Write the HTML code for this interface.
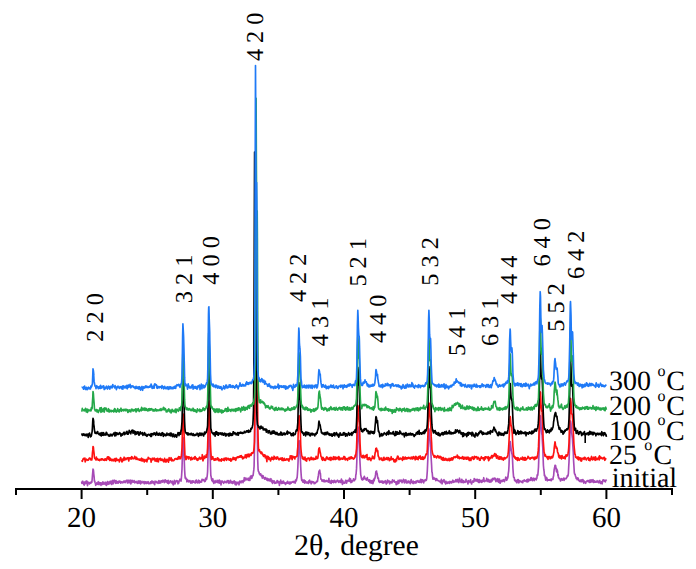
<!DOCTYPE html>
<html><head><meta charset="utf-8"><style>
html,body{margin:0;padding:0;background:#fff;}
svg{display:block;}
text{font-family:"Liberation Serif",serif;fill:#000;text-rendering:geometricPrecision;}
</style></head><body>
<svg width="696" height="569" viewBox="0 0 696 569">
<rect width="696" height="569" fill="#fff"/>
<polyline fill="none" stroke="#a64ab6" stroke-width="1.65" stroke-linejoin="round" points="81.6,481.5 81.9,483.3 82.3,481.4 82.6,483.0 82.9,481.4 83.2,483.1 83.6,484.2 83.9,482.8 84.2,485.1 84.6,482.0 84.9,482.5 85.2,482.1 85.5,482.7 85.9,483.6 86.2,481.1 86.5,481.0 86.8,481.0 87.2,481.6 87.5,485.6 87.8,483.6 88.2,482.4 88.5,482.4 88.8,482.4 89.1,482.7 89.5,483.9 89.8,482.9 90.1,482.9 90.5,482.9 90.8,483.2 91.1,481.9 91.4,482.2 91.8,482.4 92.1,480.0 92.4,476.4 92.8,471.7 93.0,469.1 93.4,469.9 93.7,472.8 93.7,473.3 94.1,476.6 94.4,481.1 94.7,481.0 95.0,482.5 95.4,483.3 95.7,485.3 96.0,483.5 96.4,483.1 96.7,482.9 97.0,484.2 97.3,483.6 97.7,482.8 98.0,484.3 98.3,481.7 98.7,483.3 99.0,484.6 99.3,483.4 99.6,482.6 100.0,483.9 100.3,484.0 100.6,482.8 101.0,485.4 101.3,483.8 101.6,483.6 101.9,482.8 102.3,484.3 102.6,484.4 102.9,481.9 103.2,482.6 103.6,483.7 103.9,484.1 104.2,483.1 104.6,483.8 104.9,482.9 105.2,482.2 105.5,484.7 105.9,483.0 106.2,483.4 106.5,485.4 106.9,482.4 107.2,484.1 107.5,481.5 107.8,481.7 108.2,484.3 108.5,483.0 108.8,482.7 109.2,483.0 109.5,481.9 109.8,483.9 110.1,481.3 110.5,483.0 110.8,481.7 111.1,481.0 111.4,483.3 111.8,484.4 112.1,482.3 112.4,481.8 112.8,480.4 113.1,483.3 113.4,483.7 113.7,481.8 114.1,481.7 114.4,480.2 114.7,481.7 115.1,481.7 115.4,482.4 115.7,483.3 116.0,480.6 116.4,481.6 116.7,482.9 117.0,483.1 117.4,483.0 117.7,481.6 118.0,483.0 118.3,483.1 118.7,481.3 119.0,481.6 119.3,481.1 119.6,482.2 120.0,481.2 120.3,481.4 120.6,483.2 121.0,482.6 121.3,482.5 121.6,481.8 121.9,481.7 122.3,482.8 122.6,482.2 122.9,482.6 123.3,482.5 123.6,481.5 123.9,481.0 124.2,482.3 124.6,481.4 124.9,481.0 125.2,482.6 125.6,481.6 125.9,481.6 126.2,481.2 126.5,480.2 126.9,480.2 127.2,481.8 127.5,483.0 127.8,482.7 128.2,480.2 128.5,480.6 128.8,482.6 129.2,482.7 129.5,481.2 129.8,480.8 130.1,480.0 130.5,481.7 130.8,484.0 131.0,481.9 131.5,480.7 131.8,482.0 131.8,482.7 132.1,480.3 132.4,481.3 132.8,481.8 133.1,481.8 133.4,481.1 133.8,482.2 134.1,480.5 134.4,482.4 134.7,482.9 135.1,482.3 135.4,482.3 135.7,481.9 136.0,481.3 136.4,482.5 136.7,481.9 137.0,482.9 137.4,482.8 137.7,483.4 138.0,481.7 138.3,480.9 138.7,481.7 139.0,483.1 139.3,481.0 139.7,481.0 140.0,481.8 140.3,481.1 140.6,483.9 141.0,482.4 141.3,483.1 141.6,482.9 142.0,481.4 142.3,482.6 142.6,482.7 142.9,482.3 143.3,482.6 143.6,481.9 143.9,481.5 144.2,483.6 144.6,483.7 144.9,482.9 145.2,481.8 145.6,482.0 145.9,482.1 146.2,483.3 146.5,482.1 146.9,483.3 147.2,483.0 147.5,482.2 147.9,482.8 148.2,481.7 148.5,483.6 148.8,483.5 149.2,483.4 149.5,483.3 149.8,483.6 150.2,483.2 150.5,481.9 150.8,483.5 151.1,481.9 151.5,483.0 151.8,481.1 152.1,481.0 152.4,482.6 152.8,482.9 153.1,481.6 153.4,481.9 153.8,482.8 154.1,483.8 154.4,482.8 154.7,484.6 155.1,481.2 155.4,481.9 155.7,481.4 156.1,482.2 156.4,481.6 156.7,482.7 157.0,482.2 157.4,482.5 157.7,482.2 158.0,483.4 158.4,481.5 158.7,481.0 159.0,480.6 159.3,483.1 159.7,482.1 160.0,481.7 160.3,481.9 160.6,483.0 161.0,480.8 161.3,481.1 161.6,480.9 162.0,480.6 162.3,482.1 162.6,480.4 162.9,481.7 163.3,481.0 163.6,480.6 163.9,480.3 164.3,482.6 164.6,480.8 164.9,481.3 165.2,479.9 165.6,481.0 165.9,481.9 166.2,481.2 166.6,481.7 166.9,480.7 167.2,482.7 167.5,483.2 167.9,482.0 168.2,480.3 168.5,483.6 168.8,482.7 169.2,482.7 169.5,481.8 169.8,482.8 170.2,480.8 170.5,481.3 170.8,481.0 171.1,481.7 171.5,482.0 171.8,482.1 172.1,483.3 172.5,481.2 172.8,482.3 173.1,484.7 173.4,484.8 173.8,482.0 174.1,483.2 174.4,480.4 174.8,481.7 175.1,483.8 175.4,482.0 175.7,481.2 176.1,481.9 176.4,481.4 176.7,480.6 177.0,481.0 177.4,480.8 177.7,481.6 178.0,483.8 178.4,481.5 178.7,483.0 179.0,481.6 179.3,480.7 179.7,480.2 180.0,479.2 180.3,479.9 180.7,480.2 181.0,481.1 181.3,478.9 181.6,475.5 182.0,468.9 182.3,458.2 182.6,447.2 182.9,438.5 183.3,437.9 183.6,444.1 183.8,448.3 183.9,451.9 184.3,461.6 184.6,469.8 184.9,474.6 185.2,478.2 185.6,477.2 185.9,478.8 186.2,479.4 186.6,479.1 186.9,481.8 187.2,481.2 187.5,479.7 187.9,480.2 188.2,480.7 188.5,481.4 188.9,482.0 189.2,480.9 189.5,481.0 189.8,480.5 190.2,481.1 190.5,481.0 190.8,483.1 191.2,482.3 191.5,481.5 191.8,481.0 192.1,483.0 192.5,481.7 192.8,481.0 193.1,480.8 193.4,482.2 193.8,482.1 194.1,482.2 194.4,482.6 194.8,482.4 195.1,483.0 195.4,480.7 195.7,482.9 196.1,481.9 196.4,480.0 196.7,481.7 197.1,481.1 197.4,482.5 197.7,482.8 198.0,481.3 198.4,482.1 198.7,480.2 199.0,480.9 199.4,483.0 199.7,480.8 200.0,481.1 200.3,482.2 200.7,481.9 201.0,482.1 201.3,481.8 201.6,482.0 202.0,479.3 202.3,480.5 202.6,479.9 203.0,479.6 203.3,479.5 203.6,480.3 203.9,479.9 204.3,481.1 204.6,481.7 204.9,480.6 205.3,481.2 205.6,478.2 205.9,479.8 206.2,479.6 206.6,479.3 206.9,477.5 207.2,476.1 207.6,471.7 207.9,460.7 208.2,446.6 208.5,432.3 208.7,427.9 208.9,424.3 209.2,428.7 209.5,438.4 209.7,441.1 209.8,444.5 210.2,457.1 210.5,467.2 210.8,475.3 211.2,477.0 211.5,478.9 211.8,480.4 212.1,480.4 212.5,481.5 212.8,478.8 213.1,480.6 213.5,482.3 213.8,483.4 214.1,482.6 214.4,482.4 214.8,481.5 215.1,480.5 215.4,482.7 215.8,482.2 216.1,481.8 216.4,481.8 216.7,481.7 217.1,480.3 217.4,482.5 217.7,481.7 218.0,482.6 218.4,480.6 218.7,481.1 219.0,482.9 219.4,480.1 219.7,482.5 220.0,483.2 220.3,482.1 220.7,481.1 221.0,484.9 221.3,482.6 221.7,481.4 222.0,481.1 222.3,481.8 222.6,481.2 223.0,482.2 223.3,482.2 223.6,483.3 224.0,482.1 224.3,482.2 224.6,482.3 224.9,481.2 225.3,482.3 225.6,482.5 225.9,482.5 226.2,482.3 226.6,481.7 226.9,482.7 227.2,480.6 227.6,481.6 227.9,481.1 228.2,481.5 228.5,480.7 228.9,483.3 229.2,481.2 229.5,482.5 229.9,481.3 230.2,482.6 230.5,480.4 230.8,482.1 231.2,483.0 231.5,483.0 231.8,481.6 232.2,483.1 232.5,483.5 232.8,481.7 233.1,483.0 233.5,481.8 233.8,482.8 234.1,480.9 234.4,481.2 234.8,481.6 235.1,484.5 235.4,484.6 235.8,482.0 236.1,482.0 236.4,484.8 236.7,483.1 237.1,483.8 237.4,482.4 237.7,482.9 238.1,483.0 238.4,482.3 238.7,483.1 239.0,484.8 239.4,482.2 239.7,481.2 240.0,481.0 240.4,481.9 240.7,482.4 241.0,482.8 241.3,481.6 241.7,481.2 242.0,480.9 242.3,481.4 242.6,481.3 243.0,482.6 243.3,480.6 243.6,480.0 244.0,480.7 244.3,477.7 244.6,480.9 244.9,479.7 245.3,478.2 245.6,478.7 245.9,478.1 246.3,479.8 246.6,479.4 246.9,479.3 247.2,479.2 247.6,478.8 247.9,479.9 248.2,478.2 248.6,480.3 248.9,478.4 249.2,478.5 249.5,478.8 249.9,480.5 250.2,477.3 250.5,476.3 250.8,478.0 251.2,475.7 251.5,478.5 251.8,478.2 252.2,476.8 252.5,476.2 252.8,475.3 253.1,475.5 253.5,472.2 253.8,469.9 254.1,466.3 254.5,446.7 254.8,403.5 255.1,324.5 255.5,257.5 255.8,272.5 256.1,310.1 256.4,322.1 256.6,332.1 256.8,343.8 257.1,393.3 257.4,437.2 257.7,459.7 258.1,469.7 258.4,471.3 258.7,471.5 259.0,472.6 259.4,473.9 259.7,474.0 260.0,474.8 260.4,473.7 260.7,473.7 261.0,475.6 261.3,475.3 261.7,476.4 262.0,475.6 262.3,478.2 262.7,475.5 263.0,476.0 263.1,475.8 263.3,476.8 263.6,477.9 264.0,477.5 264.3,477.7 264.6,479.2 265.0,479.1 265.3,477.5 265.6,477.6 265.9,478.8 266.3,478.3 266.6,479.0 266.9,480.1 267.2,478.3 267.6,479.3 267.9,480.6 268.2,480.3 268.6,479.6 268.9,478.8 269.2,480.3 269.5,480.5 269.9,481.0 270.2,480.6 270.5,479.4 270.9,478.7 271.2,480.7 271.5,481.9 271.8,480.2 272.2,481.1 272.5,483.4 272.8,480.7 273.2,481.4 273.5,482.0 273.8,482.5 274.1,480.8 274.5,481.5 274.8,483.4 275.1,482.6 275.4,483.2 275.8,483.0 276.1,483.1 276.4,481.9 276.8,482.4 277.1,480.6 277.4,482.5 277.7,480.8 278.1,482.8 278.4,482.7 278.7,481.8 279.1,481.9 279.4,485.5 279.7,482.7 280.0,482.5 280.4,481.6 280.7,480.1 281.0,481.5 281.4,483.5 281.7,483.5 282.0,482.3 282.3,481.7 282.7,483.1 283.0,483.1 283.3,481.1 283.6,481.2 284.0,482.7 284.3,483.3 284.6,483.3 285.0,483.4 285.3,482.9 285.6,484.5 285.9,483.6 286.3,482.8 286.6,482.4 286.9,482.7 287.3,483.1 287.6,481.4 287.9,482.4 288.2,482.4 288.6,483.5 288.9,482.7 289.2,482.5 289.6,482.1 289.9,484.2 290.2,482.3 290.5,482.3 290.9,482.1 291.2,483.1 291.5,482.4 291.8,482.2 292.2,482.0 292.5,482.0 292.8,481.7 293.2,482.4 293.5,481.9 293.8,481.4 294.1,482.3 294.5,481.8 294.8,481.9 295.1,483.1 295.5,480.0 295.8,481.7 296.1,479.6 296.4,480.5 296.8,478.1 297.1,478.0 297.4,474.4 297.8,468.0 298.1,460.9 298.4,449.7 298.8,441.5 299.1,440.6 299.4,445.3 299.7,448.7 300.0,452.4 300.0,454.0 300.4,459.4 300.7,466.7 301.0,472.2 301.4,477.7 301.7,480.3 302.0,479.4 302.3,480.3 302.7,481.8 303.0,482.2 303.3,481.6 303.7,482.2 304.0,479.9 304.3,480.8 304.6,483.1 305.0,480.9 305.3,480.9 305.6,481.7 306.0,482.7 306.3,482.3 306.6,483.0 306.9,482.1 307.3,482.8 307.6,482.8 307.9,482.1 308.2,483.4 308.6,482.0 308.9,480.9 309.2,480.8 309.6,480.2 309.9,482.6 310.2,481.3 310.5,481.8 310.9,481.7 311.2,483.9 311.5,483.4 311.9,481.3 312.2,481.8 312.5,482.1 312.8,482.3 313.2,482.1 313.5,481.8 313.8,482.5 314.2,483.6 314.5,483.5 314.8,482.5 315.1,483.5 315.5,482.7 315.8,482.5 316.1,482.5 316.4,481.8 316.8,481.4 317.1,480.8 317.4,481.6 317.8,478.8 318.1,477.0 318.4,475.4 318.7,473.1 319.0,471.1 319.4,471.3 319.7,470.1 320.1,473.1 320.3,473.2 320.4,473.2 320.7,477.9 321.0,479.2 321.4,479.3 321.7,479.8 322.0,481.1 322.4,480.9 322.7,480.0 323.0,480.5 323.3,481.4 323.7,481.1 324.0,479.8 324.3,481.8 324.6,480.6 325.0,481.0 325.3,481.2 325.6,481.7 326.0,480.7 326.3,481.0 326.6,480.6 326.9,480.4 327.3,481.3 327.6,480.9 327.9,481.7 328.3,482.0 328.6,482.1 328.9,478.4 329.2,481.9 329.6,480.9 329.9,481.9 330.2,482.9 330.6,481.0 330.9,481.5 331.2,483.5 331.5,480.3 331.9,481.3 332.2,482.1 332.5,482.0 332.8,480.9 333.2,481.5 333.5,482.6 333.8,482.3 334.2,480.3 334.5,481.9 334.8,480.5 335.1,482.2 335.5,482.1 335.8,482.6 336.1,481.4 336.5,481.6 336.8,480.8 337.1,480.7 337.4,480.2 337.8,480.4 338.1,480.9 338.4,482.1 338.8,482.4 339.1,481.6 339.4,481.2 339.7,480.9 340.1,481.6 340.4,480.9 340.7,482.5 341.0,481.0 341.4,479.1 341.7,482.0 342.0,481.4 342.4,484.4 342.7,480.6 343.0,482.5 343.3,482.3 343.7,482.4 344.0,483.3 344.3,483.1 344.7,483.2 345.0,481.9 345.3,481.8 345.6,480.4 346.0,482.4 346.3,480.6 346.6,483.1 347.0,481.5 347.3,481.0 347.6,481.0 347.9,480.4 348.3,481.0 348.6,480.5 348.9,479.9 349.2,481.4 349.6,478.2 349.9,480.5 350.2,480.1 350.6,479.0 350.9,482.7 351.2,480.5 351.5,481.3 351.9,482.2 352.2,480.8 352.5,480.6 352.9,480.9 353.2,480.2 353.5,478.9 353.8,480.0 354.2,479.6 354.5,480.7 354.8,479.6 355.2,479.2 355.5,479.2 355.8,475.0 356.1,474.0 356.5,468.9 356.8,461.6 357.1,450.3 357.4,437.6 357.8,428.9 358.1,427.1 358.4,435.5 358.8,438.6 359.1,443.0 359.2,444.5 359.4,448.3 359.7,456.3 360.1,464.1 360.4,469.5 360.7,474.8 361.1,476.4 361.4,478.1 361.7,479.4 362.0,478.3 362.4,480.0 362.7,478.6 363.0,478.3 363.4,479.5 363.7,477.4 364.0,477.7 364.3,476.3 364.7,477.6 365.0,478.9 365.3,478.8 365.7,478.5 366.0,478.8 366.3,480.2 366.6,479.3 367.0,479.1 367.1,478.9 367.3,477.5 367.6,479.5 367.9,479.9 368.3,480.1 368.6,481.2 368.9,480.2 369.3,481.5 369.6,479.9 369.9,482.7 370.2,482.3 370.6,480.7 370.9,481.0 371.2,483.1 371.6,483.0 371.9,480.8 372.2,480.6 372.5,480.5 372.9,483.6 373.2,482.4 373.5,481.6 373.8,479.2 374.2,480.6 374.5,478.2 374.8,478.8 375.2,476.8 375.5,474.9 375.8,472.3 376.0,471.6 376.5,471.0 376.8,473.0 377.1,473.4 377.4,475.4 377.5,476.7 377.8,478.1 378.1,478.7 378.4,478.0 378.8,481.4 379.1,480.9 379.4,482.4 379.8,482.2 380.1,481.1 380.4,481.8 380.7,481.6 381.1,482.2 381.4,481.0 381.7,482.0 382.0,482.2 382.4,483.0 382.7,481.0 383.0,483.1 383.4,481.7 383.7,482.9 384.0,481.6 384.3,482.5 384.7,482.4 385.0,481.6 385.3,480.7 385.7,482.8 386.0,482.8 386.3,484.0 386.6,482.2 387.0,481.0 387.3,483.0 387.6,480.1 388.0,481.2 388.3,481.8 388.6,481.4 388.9,481.1 389.3,481.0 389.6,483.8 389.9,483.6 390.2,481.5 390.6,482.2 390.9,481.8 391.2,481.6 391.6,482.0 391.9,483.0 392.2,482.3 392.5,479.8 392.9,480.8 393.2,481.4 393.5,480.8 393.9,481.5 394.2,480.4 394.5,482.2 394.8,482.2 395.2,482.3 395.5,482.5 395.8,481.8 396.2,484.6 396.5,482.9 396.8,481.8 397.1,482.4 397.5,483.8 397.8,483.8 398.1,480.3 398.4,481.7 398.8,483.3 399.1,482.0 399.4,481.7 399.8,480.1 400.1,481.4 400.4,481.3 400.7,481.0 401.1,480.1 401.4,481.6 401.7,481.1 402.1,482.7 402.4,480.8 402.7,481.5 403.0,480.8 403.4,479.4 403.7,481.6 404.0,479.8 404.4,482.9 404.7,481.7 405.0,481.0 405.3,480.4 405.7,479.9 406.0,480.2 406.3,482.9 406.6,482.8 407.0,482.6 407.3,482.8 407.6,481.3 408.0,481.2 408.3,482.4 408.6,481.1 408.9,482.6 409.3,481.7 409.6,481.9 409.9,481.3 410.3,483.6 410.6,481.4 410.9,481.0 411.2,479.5 411.6,482.5 411.9,481.3 412.2,481.8 412.6,481.5 412.9,483.5 413.2,481.1 413.5,481.7 413.9,483.4 414.2,482.2 414.5,481.9 414.8,482.3 415.2,481.5 415.5,481.6 415.8,483.1 416.2,481.1 416.5,482.5 416.8,481.1 417.1,481.1 417.5,481.2 417.8,480.5 418.1,481.0 418.5,482.1 418.8,481.5 419.1,481.5 419.4,482.0 419.8,482.5 420.1,480.4 420.4,480.6 420.8,479.3 421.1,480.3 421.4,482.6 421.7,479.9 422.1,480.8 422.4,479.9 422.7,481.7 423.0,480.0 423.4,481.1 423.7,482.9 424.0,481.0 424.4,481.1 424.7,480.1 425.0,481.0 425.3,480.3 425.7,479.5 426.0,480.5 426.3,480.3 426.7,478.7 427.0,475.3 427.3,471.1 427.6,464.3 428.0,455.0 428.3,443.7 428.6,433.3 428.9,428.7 429.3,430.9 429.6,435.2 429.9,438.1 430.3,443.9 430.5,446.7 430.6,447.1 430.9,453.4 431.2,458.7 431.6,465.4 431.9,471.9 432.2,472.6 432.6,476.9 432.9,479.2 433.2,478.6 433.5,479.1 433.9,477.5 434.2,478.4 434.5,479.1 434.9,479.3 435.2,479.2 435.5,478.5 435.8,480.6 436.2,479.6 436.5,478.7 436.8,478.9 437.2,480.0 437.5,480.4 437.8,480.4 438.1,480.5 438.5,480.7 438.8,480.8 439.1,481.2 439.4,481.7 439.8,481.3 440.1,481.1 440.4,481.4 440.8,482.7 441.1,481.7 441.4,479.3 441.7,480.8 442.1,483.8 442.4,481.5 442.7,481.7 443.1,480.7 443.4,481.0 443.7,480.1 444.0,479.6 444.4,482.4 444.7,481.5 445.0,482.0 445.4,482.5 445.7,484.0 446.0,481.2 446.3,483.1 446.7,482.9 447.0,483.4 447.3,483.4 447.6,483.2 448.0,481.9 448.3,482.1 448.6,482.9 449.0,482.3 449.3,482.3 449.6,483.4 449.9,481.4 450.3,482.1 450.6,482.4 450.9,482.2 451.3,481.7 451.6,483.0 451.9,482.7 452.2,481.3 452.6,482.0 452.9,480.2 453.2,481.6 453.6,482.3 453.9,481.6 454.2,481.1 454.5,481.5 454.9,481.9 455.2,481.1 455.5,481.5 455.8,479.7 456.2,480.2 456.5,481.6 456.8,481.7 457.0,480.1 457.2,479.4 457.5,480.3 457.8,481.6 458.1,480.0 458.5,480.0 458.7,481.4 458.8,482.6 459.1,481.5 459.5,478.2 459.8,480.5 460.1,480.8 460.4,480.5 460.8,481.7 461.1,482.5 461.4,481.0 461.8,479.3 462.1,480.3 462.4,482.5 462.7,481.9 463.1,481.0 463.4,482.7 463.7,480.7 464.0,482.4 464.4,481.6 464.7,481.9 465.0,482.3 465.4,481.9 465.7,480.9 466.0,479.4 466.3,480.3 466.7,481.4 467.0,481.0 467.3,482.2 467.7,482.7 468.0,484.0 468.3,481.1 468.6,480.7 469.0,481.2 469.3,481.3 469.6,481.5 470.0,482.5 470.3,480.9 470.6,479.7 470.9,482.3 471.3,482.8 471.6,484.0 471.9,482.5 472.2,482.5 472.6,481.6 472.9,480.9 473.2,481.1 473.6,482.1 473.9,481.3 474.2,478.6 474.5,479.4 474.9,479.7 475.2,481.0 475.5,480.8 475.9,479.4 476.2,479.6 476.5,480.0 476.8,481.1 477.2,479.4 477.5,479.5 477.8,481.1 478.2,481.9 478.5,482.3 478.8,480.6 479.1,479.6 479.5,482.5 479.8,480.0 480.1,480.5 480.4,481.3 480.6,481.3 480.8,481.4 481.1,480.6 481.4,482.4 481.8,480.6 482.1,481.5 482.4,481.9 482.4,480.3 482.7,481.2 483.1,479.6 483.4,481.3 483.7,477.7 484.1,479.7 484.4,480.7 484.7,481.7 485.0,481.1 485.4,481.0 485.7,481.0 486.0,480.4 486.4,480.3 486.7,478.4 487.0,480.7 487.3,481.5 487.7,480.5 488.0,481.5 488.3,479.4 488.6,479.6 489.0,479.9 489.3,482.1 489.6,481.2 490.0,480.6 490.3,481.6 490.6,480.4 490.9,482.2 491.3,479.4 491.6,479.4 491.9,480.9 492.3,480.9 492.6,479.3 492.9,478.3 493.2,479.6 493.6,479.1 493.9,478.6 494.2,478.3 494.4,478.3 494.6,478.6 494.9,478.2 495.2,480.0 495.5,478.6 495.9,481.6 496.2,479.7 496.2,480.2 496.5,479.9 496.8,479.5 497.2,479.2 497.5,481.1 497.8,478.5 498.2,480.2 498.5,482.3 498.8,481.6 499.1,480.8 499.5,479.1 499.8,482.3 500.1,483.2 500.5,482.6 500.8,480.9 501.1,480.9 501.4,481.0 501.8,481.3 502.1,480.1 502.4,481.5 502.8,481.2 503.1,480.2 503.4,480.4 503.7,479.5 504.1,481.2 504.4,481.7 504.7,480.5 505.0,480.1 505.4,479.5 505.7,477.2 506.0,477.3 506.4,478.6 506.7,480.3 507.0,478.8 507.3,479.0 507.7,478.0 508.0,476.5 508.3,473.4 508.7,470.8 509.0,465.6 509.3,456.6 509.6,448.9 510.1,441.8 510.3,441.6 510.6,444.1 511.0,448.2 511.3,450.8 511.6,451.5 511.9,454.0 511.9,452.9 512.3,455.6 512.6,460.9 512.9,468.0 513.2,472.4 513.6,477.1 513.9,477.4 514.2,477.3 514.6,480.4 514.9,480.5 515.2,479.9 515.5,481.4 515.9,480.6 516.2,480.9 516.5,482.2 516.9,482.9 517.2,480.1 517.5,481.1 517.8,479.8 518.2,479.5 518.5,481.5 518.8,482.9 519.2,482.1 519.5,480.6 519.8,480.9 520.1,481.3 520.5,481.1 520.8,481.8 521.1,481.9 521.4,481.6 521.8,482.0 522.1,482.5 522.4,481.1 522.8,482.7 523.1,480.6 523.4,480.7 523.7,480.4 524.1,480.1 524.4,479.9 524.7,481.1 525.1,481.0 525.4,480.8 525.7,481.0 526.0,480.7 526.4,481.7 526.7,479.9 527.0,480.0 527.4,479.3 527.7,481.9 528.0,481.6 528.3,480.7 528.7,481.1 529.0,479.2 529.3,480.3 529.6,480.1 530.0,479.9 530.3,480.4 530.6,479.5 531.0,477.5 531.3,477.9 531.6,478.2 531.9,480.0 532.3,480.7 532.6,480.0 532.9,478.8 533.3,478.1 533.6,479.8 533.9,478.9 534.2,480.6 534.6,478.5 534.9,478.8 535.2,478.5 535.6,479.2 535.9,478.5 536.2,479.9 536.5,478.7 536.9,478.3 537.2,474.9 537.5,475.8 537.8,475.0 538.2,471.0 538.5,467.0 538.8,458.2 539.2,448.3 539.5,435.1 539.8,420.6 540.2,415.6 540.5,416.8 540.8,421.5 541.1,427.0 541.5,431.4 541.8,434.2 542.1,434.8 542.1,435.1 542.4,441.6 542.8,447.9 543.1,457.2 543.4,465.2 543.8,469.7 544.1,471.3 544.4,475.6 544.7,475.0 545.1,476.4 545.4,478.4 545.7,480.2 546.0,479.6 546.4,477.3 546.7,477.6 547.0,478.7 547.4,480.8 547.7,479.9 548.0,479.7 548.3,480.1 548.7,479.8 549.0,480.1 549.3,479.7 549.7,480.1 550.0,479.9 550.3,480.3 550.6,480.3 551.0,479.0 551.3,480.6 551.6,479.1 552.0,479.4 552.3,479.0 552.6,479.1 552.9,479.4 553.3,476.7 553.6,476.0 553.9,472.3 554.2,469.4 554.6,467.8 555.0,465.3 555.2,465.4 555.6,465.5 555.9,468.0 556.2,469.6 556.5,471.6 556.9,469.7 557.0,469.2 557.2,472.5 557.5,470.7 557.9,475.8 558.2,474.5 558.5,477.6 558.8,477.7 559.2,478.6 559.5,478.3 559.8,478.6 560.2,479.8 560.5,481.0 560.8,479.7 561.1,479.2 561.5,479.7 561.8,478.6 562.1,479.3 562.4,480.2 562.8,479.5 563.1,479.5 563.4,479.4 563.8,478.1 564.1,480.4 564.4,478.7 564.7,478.5 565.1,478.8 565.4,478.5 565.7,478.7 566.1,478.7 566.4,478.3 566.7,477.5 567.0,477.2 567.4,475.5 567.7,476.2 568.0,475.9 568.4,473.3 568.7,467.0 569.0,462.0 569.3,453.6 569.7,443.0 570.0,432.2 570.3,423.4 570.5,422.0 570.6,421.0 571.0,423.7 571.3,430.6 571.6,432.7 572.0,434.8 572.3,437.4 572.5,438.9 572.6,441.7 572.9,446.4 573.3,452.4 573.6,461.0 573.9,465.5 574.3,472.5 574.6,474.0 574.9,474.0 575.2,475.1 575.6,476.4 575.9,477.0 576.2,478.5 576.6,478.4 576.9,478.5 577.2,479.7 577.5,477.9 577.9,478.4 578.2,478.2 578.5,479.6 578.8,480.6 579.2,480.4 579.5,481.1 579.8,481.5 580.2,480.7 580.5,480.1 580.8,481.0 581.1,481.7 581.5,481.0 581.8,479.9 582.1,481.6 582.5,480.7 582.8,479.6 583.1,480.0 583.4,481.3 583.8,483.2 584.1,482.7 584.4,481.0 584.8,482.5 585.1,482.5 585.4,482.4 585.7,483.3 586.1,481.8 586.4,481.4 586.7,481.2 587.0,480.9 587.4,480.6 587.7,480.6 588.0,481.6 588.4,481.6 588.7,480.5 589.0,480.6 589.3,482.2 589.7,482.4 590.0,480.2 590.3,480.9 590.7,482.3 591.0,479.8 591.3,480.0 591.6,480.0 592.0,480.5 592.3,481.8 592.6,479.9 593.0,479.7 593.3,480.8 593.6,482.5 593.9,482.0 594.3,480.9 594.6,482.1 594.9,481.7 595.2,481.6 595.6,482.2 595.9,481.4 596.2,482.2 596.6,481.5 596.9,481.9 597.2,480.7 597.5,481.4 597.9,482.1 598.2,482.0 598.5,482.7 598.9,481.0 599.2,482.4 599.5,480.5 599.8,480.6 600.2,482.5 600.5,483.4 600.8,483.4 601.2,482.7 601.5,481.8 601.8,483.3 602.1,483.9 602.5,482.0 602.8,480.0 603.1,481.0 603.4,480.4 603.8,479.8 604.1,480.5 604.4,481.2 604.8,481.4 605.1,481.6 605.4,481.8 605.7,480.2 606.1,480.1 606.4,480.9"/>
<polyline fill="none" stroke="#fe1212" stroke-width="1.65" stroke-linejoin="round" points="81.6,460.3 81.9,460.7 82.3,461.4 82.6,460.5 82.9,459.6 83.2,458.7 83.6,458.5 83.9,458.4 84.2,458.8 84.6,459.6 84.9,458.0 85.2,461.9 85.5,460.0 85.9,460.5 86.2,460.1 86.5,459.2 86.8,459.6 87.2,459.6 87.5,459.8 87.8,460.3 88.2,460.2 88.5,459.9 88.8,459.1 89.1,458.4 89.5,458.3 89.8,457.9 90.1,458.8 90.5,458.6 90.8,459.9 91.1,459.0 91.4,459.7 91.8,460.0 92.1,457.8 92.4,453.2 92.8,449.9 93.0,446.5 93.4,447.2 93.7,450.7 93.7,450.3 94.1,453.7 94.4,457.1 94.7,458.4 95.0,458.7 95.4,458.7 95.7,459.5 96.0,460.0 96.4,457.1 96.7,459.2 97.0,459.7 97.3,459.3 97.7,458.9 98.0,459.7 98.3,460.1 98.7,460.1 99.0,460.2 99.3,459.4 99.6,460.6 100.0,459.7 100.3,459.8 100.6,459.4 101.0,460.0 101.3,458.9 101.6,458.9 101.9,459.8 102.3,459.4 102.6,458.9 102.9,459.7 103.2,459.8 103.6,460.2 103.9,459.9 104.2,460.5 104.6,459.0 104.9,460.2 105.2,460.0 105.5,458.9 105.9,459.4 106.2,459.7 106.5,460.3 106.9,458.6 107.2,457.6 107.5,456.9 107.8,458.7 108.2,458.6 108.5,456.8 108.8,459.3 109.2,457.4 109.5,459.5 109.8,460.4 110.1,458.0 110.5,458.8 110.8,460.2 111.1,459.2 111.4,459.3 111.8,460.7 112.1,459.5 112.4,460.3 112.8,460.5 113.1,459.3 113.4,460.8 113.7,460.2 114.1,459.4 114.4,460.3 114.7,458.9 115.1,458.5 115.4,461.5 115.7,461.2 116.0,459.9 116.4,458.4 116.7,458.6 117.0,460.2 117.4,460.0 117.7,460.3 118.0,460.0 118.3,459.9 118.7,460.0 119.0,459.6 119.3,462.0 119.6,459.4 120.0,459.0 120.3,458.3 120.6,457.5 121.0,458.4 121.3,461.0 121.6,460.1 121.9,461.9 122.3,461.4 122.6,460.5 122.9,459.0 123.3,458.6 123.6,459.0 123.9,460.4 124.2,457.2 124.6,459.8 124.9,458.3 125.2,458.3 125.6,458.4 125.9,459.7 126.2,458.9 126.5,459.0 126.9,458.0 127.2,458.5 127.5,458.1 127.8,458.8 128.2,457.7 128.5,459.9 128.8,461.0 129.2,457.9 129.5,457.9 129.8,458.5 130.1,458.5 130.5,457.5 130.8,457.5 131.0,459.2 131.5,458.7 131.8,457.6 131.8,456.5 132.1,458.1 132.4,457.5 132.8,458.0 133.1,458.8 133.4,458.5 133.8,458.6 134.1,458.3 134.4,458.4 134.7,456.3 135.1,457.2 135.4,457.8 135.7,457.9 136.0,459.3 136.4,457.3 136.7,457.5 137.0,459.5 137.4,459.4 137.7,459.1 138.0,459.5 138.3,459.0 138.7,459.3 139.0,459.4 139.3,460.2 139.7,459.1 140.0,460.2 140.3,459.8 140.6,459.0 141.0,460.6 141.3,460.0 141.6,458.2 142.0,460.9 142.3,458.8 142.6,460.2 142.9,460.8 143.3,459.7 143.6,459.4 143.9,459.3 144.2,462.0 144.6,461.4 144.9,460.0 145.2,460.9 145.6,460.4 145.9,460.3 146.2,459.4 146.5,461.2 146.9,461.8 147.2,460.3 147.5,459.4 147.9,459.4 148.2,457.3 148.5,458.8 148.8,458.7 149.2,458.5 149.5,458.3 149.8,458.3 150.2,459.0 150.5,458.8 150.8,459.3 151.1,462.2 151.5,459.8 151.8,459.1 152.1,459.5 152.4,458.2 152.8,459.8 153.1,459.5 153.4,459.5 153.8,458.4 154.1,458.0 154.4,459.0 154.7,459.3 155.1,461.1 155.4,460.3 155.7,459.6 156.1,458.7 156.4,459.1 156.7,461.0 157.0,461.5 157.4,459.5 157.7,458.3 158.0,460.3 158.4,461.8 158.7,459.9 159.0,459.6 159.3,458.8 159.7,459.5 160.0,459.5 160.3,458.3 160.6,459.9 161.0,460.4 161.3,460.4 161.6,459.1 162.0,459.1 162.3,459.3 162.6,460.1 162.9,459.8 163.3,461.3 163.6,460.0 163.9,462.0 164.3,461.4 164.6,458.4 164.9,461.0 165.2,461.1 165.6,461.0 165.9,462.1 166.2,459.7 166.6,461.4 166.9,460.9 167.2,459.2 167.5,460.3 167.9,460.6 168.2,460.9 168.5,462.2 168.8,459.4 169.2,457.7 169.5,460.1 169.8,459.7 170.2,459.3 170.5,459.3 170.8,460.0 171.1,457.7 171.5,460.6 171.8,460.8 172.1,459.3 172.5,460.7 172.8,460.5 173.1,460.4 173.4,460.6 173.8,460.6 174.1,460.0 174.4,459.8 174.8,458.9 175.1,459.1 175.4,458.5 175.7,458.5 176.1,459.1 176.4,458.5 176.7,459.2 177.0,459.4 177.4,459.1 177.7,459.1 178.0,457.4 178.4,458.6 178.7,456.5 179.0,458.9 179.3,458.0 179.7,456.8 180.0,457.9 180.3,457.4 180.7,458.7 181.0,457.1 181.3,456.7 181.6,453.2 182.0,447.9 182.3,435.7 182.6,422.1 182.9,414.6 183.3,414.2 183.6,419.3 183.8,424.6 183.9,427.8 184.3,438.9 184.6,447.1 184.9,454.6 185.2,457.5 185.6,457.6 185.9,459.6 186.2,459.4 186.6,456.3 186.9,456.7 187.2,457.6 187.5,457.5 187.9,456.8 188.2,457.8 188.5,459.0 188.9,456.9 189.2,457.1 189.5,457.2 189.8,457.5 190.2,457.5 190.5,459.0 190.8,460.0 191.2,458.4 191.5,457.4 191.8,459.3 192.1,459.5 192.5,459.0 192.8,459.2 193.1,458.5 193.4,458.0 193.8,457.9 194.1,457.9 194.4,457.2 194.8,459.2 195.1,456.6 195.4,457.5 195.7,458.5 196.1,458.0 196.4,458.2 196.7,459.7 197.1,460.1 197.4,460.3 197.7,458.8 198.0,460.1 198.4,458.6 198.7,458.7 199.0,458.2 199.4,457.3 199.7,457.2 200.0,459.2 200.3,457.8 200.7,459.0 201.0,458.8 201.3,457.9 201.6,458.5 202.0,457.9 202.3,454.7 202.6,459.2 203.0,460.8 203.3,459.2 203.6,457.2 203.9,458.2 204.3,456.1 204.6,458.5 204.9,456.7 205.3,457.6 205.6,456.5 205.9,456.4 206.2,454.8 206.6,457.3 206.9,454.8 207.2,453.7 207.6,447.6 207.9,437.5 208.2,421.8 208.5,407.4 208.7,403.1 208.9,400.9 209.2,405.7 209.5,411.3 209.7,417.2 209.8,422.7 210.2,434.2 210.5,444.3 210.8,450.7 211.2,456.5 211.5,459.5 211.8,458.3 212.1,458.3 212.5,458.8 212.8,456.7 213.1,458.9 213.5,459.1 213.8,458.6 214.1,460.3 214.4,459.9 214.8,460.2 215.1,459.3 215.4,458.7 215.8,460.0 216.1,459.8 216.4,459.5 216.7,458.9 217.1,459.3 217.4,457.8 217.7,459.6 218.0,458.1 218.4,460.1 218.7,460.6 219.0,459.0 219.4,460.6 219.7,459.9 220.0,460.7 220.3,460.2 220.7,459.7 221.0,460.6 221.3,461.2 221.7,458.9 222.0,458.8 222.3,459.4 222.6,459.3 223.0,460.2 223.3,460.2 223.6,459.6 224.0,458.4 224.3,460.7 224.6,460.0 224.9,459.4 225.3,458.2 225.6,458.8 225.9,458.3 226.2,458.0 226.6,460.3 226.9,459.0 227.2,459.1 227.6,458.7 227.9,458.3 228.2,458.5 228.5,459.0 228.9,459.9 229.2,459.2 229.5,460.1 229.9,459.1 230.2,458.6 230.5,459.0 230.8,461.1 231.2,460.2 231.5,460.8 231.8,459.1 232.2,459.0 232.5,459.4 232.8,459.2 233.1,457.4 233.5,457.8 233.8,459.0 234.1,459.6 234.4,458.2 234.8,457.9 235.1,458.0 235.4,459.1 235.8,460.3 236.1,459.1 236.4,457.5 236.7,457.9 237.1,457.4 237.4,456.7 237.7,456.7 238.1,457.7 238.4,456.8 238.7,457.2 239.0,456.7 239.4,456.3 239.7,457.2 240.0,456.4 240.4,455.8 240.7,456.2 241.0,457.1 241.3,455.6 241.7,456.4 242.0,456.7 242.3,457.3 242.6,458.8 243.0,457.0 243.3,458.6 243.6,457.7 244.0,458.0 244.3,457.3 244.6,457.1 244.9,457.4 245.3,454.9 245.6,456.1 245.9,457.2 246.3,458.0 246.6,455.5 246.9,454.6 247.2,455.9 247.6,456.6 247.9,456.2 248.2,454.1 248.6,455.6 248.9,456.7 249.2,456.6 249.5,454.4 249.9,454.6 250.2,454.2 250.5,454.4 250.8,455.5 251.2,455.2 251.5,453.2 251.8,452.7 252.2,452.7 252.5,453.3 252.8,452.4 253.1,453.1 253.5,451.7 253.8,450.3 254.1,447.3 254.5,441.8 254.8,424.8 255.1,377.6 255.4,293.3 255.8,227.8 256.1,252.0 256.4,292.6 256.8,300.7 256.9,304.8 257.1,321.0 257.4,374.4 257.7,418.5 258.1,438.5 258.4,447.0 258.7,450.1 259.0,450.9 259.4,449.7 259.7,451.2 260.0,451.9 260.4,452.6 260.7,451.8 261.0,453.5 261.3,452.9 261.7,452.2 262.0,452.8 262.3,454.4 262.7,454.1 263.0,454.4 263.1,455.8 263.3,454.8 263.6,456.4 264.0,456.0 264.3,454.9 264.6,455.8 265.0,455.0 265.3,457.8 265.6,455.5 265.9,457.5 266.3,456.6 266.6,459.3 266.9,461.7 267.2,456.4 267.6,456.3 267.9,458.1 268.2,456.5 268.6,458.4 268.9,459.4 269.2,457.6 269.5,458.2 269.9,458.0 270.2,458.6 270.5,460.9 270.9,459.6 271.2,459.6 271.5,458.3 271.8,457.2 272.2,457.3 272.5,457.9 272.8,459.2 273.2,458.1 273.5,459.7 273.8,459.1 274.1,456.2 274.5,457.4 274.8,458.7 275.1,458.0 275.4,458.6 275.8,458.0 276.1,457.2 276.4,459.1 276.8,458.5 277.1,457.1 277.4,457.2 277.7,457.1 278.1,458.5 278.4,458.5 278.7,459.6 279.1,459.0 279.4,459.7 279.7,459.4 280.0,458.3 280.4,458.8 280.7,459.1 281.0,458.0 281.4,459.1 281.7,458.4 282.0,460.3 282.3,457.9 282.7,458.8 283.0,460.6 283.3,459.2 283.6,460.4 284.0,460.4 284.3,458.4 284.6,460.0 285.0,459.3 285.3,460.2 285.6,460.0 285.9,459.3 286.3,459.8 286.6,458.7 286.9,458.7 287.3,459.2 287.6,459.1 287.9,459.9 288.2,459.1 288.6,460.7 288.9,461.2 289.2,458.9 289.6,458.5 289.9,459.1 290.2,455.9 290.5,457.0 290.9,456.9 291.2,455.8 291.5,457.7 291.8,458.7 292.2,459.6 292.5,456.3 292.8,456.1 293.2,457.4 293.5,456.9 293.8,457.6 294.1,456.7 294.5,456.7 294.8,459.0 295.1,457.4 295.5,457.1 295.8,456.8 296.1,456.5 296.4,456.7 296.8,455.8 297.1,456.1 297.4,451.1 297.8,447.2 298.1,436.3 298.4,426.1 298.8,417.1 299.1,415.6 299.4,420.4 299.7,424.8 300.0,429.6 300.0,429.1 300.4,433.7 300.7,444.8 301.0,449.5 301.4,453.3 301.7,455.9 302.0,456.1 302.3,458.4 302.7,456.7 303.0,457.3 303.3,459.4 303.7,458.3 304.0,459.2 304.3,458.4 304.6,458.6 305.0,457.0 305.3,460.4 305.6,458.3 306.0,459.1 306.3,460.5 306.6,461.1 306.9,458.8 307.3,458.9 307.6,458.8 307.9,458.0 308.2,458.7 308.6,458.0 308.9,458.8 309.2,458.6 309.6,460.5 309.9,459.6 310.2,458.2 310.5,458.6 310.9,458.5 311.2,457.2 311.5,459.5 311.9,457.9 312.2,458.4 312.5,458.8 312.8,458.6 313.2,459.8 313.5,458.5 313.8,458.2 314.2,458.7 314.5,459.3 314.8,459.3 315.1,458.5 315.5,459.2 315.8,458.4 316.1,456.3 316.4,458.6 316.8,457.2 317.1,458.6 317.4,457.3 317.8,458.2 318.1,456.1 318.4,452.7 318.7,449.4 319.0,448.3 319.4,447.9 319.7,449.7 320.1,451.9 320.3,453.5 320.4,452.9 320.7,455.1 321.0,456.7 321.4,456.7 321.7,458.6 322.0,459.6 322.4,458.2 322.7,460.3 323.0,457.3 323.3,457.8 323.7,458.8 324.0,458.7 324.3,459.4 324.6,460.3 325.0,459.5 325.3,459.6 325.6,460.3 326.0,458.4 326.3,457.6 326.6,457.0 326.9,456.9 327.3,458.8 327.6,458.9 327.9,458.2 328.3,458.6 328.6,459.3 328.9,458.0 329.2,458.5 329.6,457.7 329.9,459.8 330.2,457.9 330.6,457.4 330.9,460.4 331.2,457.5 331.5,457.5 331.9,458.8 332.2,458.9 332.5,459.3 332.8,458.9 333.2,459.6 333.5,456.7 333.8,458.4 334.2,459.0 334.5,457.0 334.8,457.9 335.1,459.5 335.5,458.8 335.8,457.0 336.1,459.3 336.5,458.2 336.8,458.6 337.1,457.5 337.4,458.4 337.8,457.3 338.1,458.9 338.4,459.2 338.8,456.6 339.1,459.9 339.4,458.5 339.7,457.6 340.1,458.4 340.4,459.5 340.7,459.0 341.0,459.0 341.4,458.7 341.7,458.2 342.0,458.9 342.4,458.4 342.7,459.2 343.0,458.0 343.3,458.8 343.7,456.9 344.0,456.4 344.3,458.9 344.7,457.4 345.0,457.1 345.3,460.0 345.6,459.3 346.0,459.6 346.3,459.1 346.6,458.7 347.0,459.0 347.3,458.7 347.6,460.4 347.9,458.9 348.3,458.3 348.6,458.2 348.9,458.5 349.2,457.3 349.6,459.1 349.9,458.3 350.2,458.3 350.6,458.6 350.9,457.0 351.2,456.8 351.5,457.1 351.9,458.4 352.2,458.4 352.5,457.7 352.9,458.1 353.2,458.9 353.5,459.1 353.8,458.4 354.2,458.6 354.5,458.0 354.8,457.7 355.2,455.2 355.5,456.7 355.8,455.2 356.1,452.1 356.5,448.5 356.8,440.9 357.1,427.7 357.4,415.4 357.8,405.4 358.1,406.7 358.4,412.9 358.8,415.8 359.1,421.9 359.2,420.9 359.4,426.7 359.7,432.6 360.1,444.3 360.4,450.0 360.7,453.3 361.1,456.4 361.4,456.9 361.7,456.7 362.0,457.5 362.4,456.9 362.7,455.6 363.0,457.9 363.4,455.3 363.7,456.8 364.0,456.4 364.3,456.3 364.7,457.9 365.0,456.0 365.3,456.1 365.7,455.6 366.0,455.3 366.3,457.1 366.6,455.3 367.0,454.5 367.1,457.0 367.3,459.5 367.6,457.6 367.9,458.5 368.3,459.7 368.6,459.4 368.9,458.8 369.3,457.5 369.6,458.0 369.9,458.8 370.2,459.8 370.6,458.6 370.9,460.7 371.2,459.1 371.6,458.3 371.9,458.7 372.2,458.1 372.5,456.1 372.9,456.5 373.2,458.4 373.5,458.1 373.8,457.7 374.2,458.8 374.5,458.2 374.8,455.3 375.2,452.3 375.5,452.4 375.8,448.6 376.0,448.5 376.5,448.2 376.8,449.3 377.1,451.0 377.4,451.0 377.5,450.3 377.8,451.1 378.1,455.2 378.4,456.5 378.8,457.0 379.1,457.8 379.4,459.7 379.8,458.7 380.1,458.6 380.4,458.4 380.7,458.4 381.1,457.9 381.4,459.9 381.7,459.5 382.0,459.5 382.4,459.3 382.7,460.5 383.0,460.4 383.4,457.5 383.7,459.0 384.0,457.3 384.3,460.0 384.7,458.5 385.0,459.6 385.3,459.5 385.7,458.3 386.0,458.9 386.3,459.2 386.6,457.9 387.0,457.5 387.3,459.6 387.6,459.6 388.0,459.0 388.3,458.9 388.6,457.7 388.9,458.7 389.3,460.7 389.6,459.1 389.9,458.5 390.2,459.1 390.6,459.7 390.9,460.0 391.2,456.7 391.6,459.1 391.9,459.0 392.2,458.9 392.5,458.8 392.9,459.5 393.2,458.7 393.5,459.3 393.9,461.3 394.2,461.9 394.5,460.4 394.8,459.8 395.2,460.6 395.5,461.8 395.8,460.2 396.2,458.9 396.5,460.8 396.8,458.9 397.1,458.1 397.5,456.2 397.8,457.7 398.1,456.4 398.4,457.6 398.8,459.4 399.1,458.8 399.4,458.5 399.8,459.3 400.1,458.5 400.4,458.1 400.7,458.9 401.1,458.9 401.4,458.9 401.7,458.5 402.1,458.8 402.4,460.4 402.7,457.1 403.0,458.5 403.4,457.1 403.7,458.0 404.0,459.4 404.4,458.3 404.7,458.7 405.0,458.2 405.3,457.0 405.7,459.0 406.0,458.9 406.3,458.9 406.6,457.9 407.0,458.9 407.3,457.7 407.6,458.5 408.0,458.3 408.3,458.3 408.6,457.3 408.9,457.3 409.3,457.6 409.6,458.4 409.9,458.0 410.3,458.4 410.6,458.1 410.9,459.0 411.2,457.0 411.6,458.4 411.9,458.0 412.2,458.0 412.6,458.9 412.9,457.3 413.2,456.5 413.5,457.0 413.9,458.4 414.2,458.3 414.5,458.2 414.8,457.2 415.2,459.8 415.5,457.9 415.8,456.3 416.2,457.0 416.5,457.7 416.8,459.1 417.1,457.6 417.5,458.6 417.8,458.2 418.1,459.7 418.5,456.6 418.8,458.5 419.1,457.9 419.4,458.1 419.8,457.6 420.1,455.8 420.4,457.5 420.8,459.1 421.1,457.7 421.4,457.4 421.7,457.5 422.1,459.2 422.4,458.6 422.7,456.9 423.0,459.5 423.4,457.4 423.7,459.2 424.0,458.6 424.4,457.3 424.7,458.2 425.0,457.6 425.3,456.4 425.7,455.4 426.0,454.1 426.3,454.5 426.7,454.4 427.0,452.9 427.3,449.7 427.6,441.2 428.0,433.9 428.3,420.1 428.6,409.4 428.9,404.2 429.3,403.3 429.6,411.2 429.9,414.5 430.3,419.2 430.5,421.9 430.6,421.8 430.9,428.7 431.2,436.4 431.6,442.3 431.9,449.6 432.2,451.3 432.6,453.7 432.9,454.1 433.2,455.0 433.5,455.6 433.9,456.2 434.2,457.3 434.5,455.6 434.9,455.8 435.2,456.3 435.5,456.5 435.8,456.9 436.2,457.4 436.5,458.0 436.8,457.0 437.2,456.2 437.5,456.0 437.8,455.7 438.1,456.5 438.5,457.3 438.8,456.7 439.1,458.0 439.4,456.9 439.8,457.8 440.1,456.2 440.4,457.6 440.8,457.6 441.1,457.2 441.4,459.4 441.7,457.2 442.1,458.5 442.4,459.9 442.7,460.1 443.1,458.3 443.4,457.5 443.7,459.7 444.0,460.3 444.4,460.2 444.7,458.8 445.0,458.8 445.4,458.4 445.7,460.0 446.0,458.5 446.3,459.1 446.7,460.2 447.0,460.4 447.3,459.0 447.6,460.4 448.0,459.9 448.3,459.7 448.6,459.6 449.0,458.4 449.3,460.7 449.6,460.6 449.9,459.1 450.3,460.3 450.6,459.6 450.9,458.3 451.3,459.5 451.6,459.9 451.9,457.8 452.2,458.2 452.6,459.9 452.9,459.1 453.2,458.4 453.6,457.4 453.9,457.0 454.2,456.8 454.5,457.4 454.9,457.4 455.2,457.7 455.5,456.6 455.8,457.2 456.2,457.1 456.5,457.0 456.8,456.9 457.0,456.9 457.2,455.0 457.5,456.9 457.8,458.0 458.1,457.2 458.5,456.4 458.7,458.0 458.8,456.7 459.1,457.7 459.5,458.7 459.8,457.2 460.1,458.1 460.4,458.1 460.8,457.8 461.1,458.4 461.4,458.2 461.8,457.6 462.1,458.4 462.4,456.6 462.7,456.9 463.1,457.1 463.4,459.2 463.7,458.2 464.0,459.2 464.4,457.4 464.7,457.6 465.0,458.1 465.4,457.4 465.7,457.6 466.0,459.1 466.3,458.7 466.7,459.1 467.0,457.2 467.3,459.0 467.7,457.3 468.0,457.2 468.3,457.3 468.6,458.9 469.0,459.8 469.3,460.5 469.6,458.7 470.0,457.9 470.3,458.2 470.6,458.7 470.9,460.5 471.3,458.5 471.6,457.8 471.9,457.5 472.2,456.9 472.6,458.4 472.9,457.1 473.2,458.7 473.6,459.3 473.9,457.3 474.2,459.0 474.5,456.4 474.9,456.7 475.2,457.1 475.5,457.6 475.9,457.1 476.2,456.8 476.5,457.1 476.8,456.6 477.2,459.1 477.5,458.1 477.8,458.4 478.2,457.9 478.5,457.4 478.8,458.5 479.1,459.0 479.5,460.2 479.8,459.3 480.1,460.3 480.4,458.4 480.6,458.5 480.8,458.6 481.1,458.0 481.4,456.7 481.8,457.7 482.1,457.6 482.4,458.2 482.4,458.7 482.7,458.7 483.1,457.8 483.4,458.7 483.7,457.9 484.1,460.4 484.4,458.0 484.7,457.2 485.0,457.0 485.4,459.0 485.7,456.8 486.0,457.6 486.4,457.0 486.7,457.0 487.0,457.6 487.3,457.3 487.7,458.3 488.0,458.8 488.3,456.7 488.6,460.6 489.0,460.2 489.3,458.2 489.6,457.6 490.0,458.7 490.3,457.4 490.6,458.5 490.9,457.8 491.3,456.8 491.6,455.6 491.9,457.2 492.3,457.9 492.6,457.2 492.9,455.7 493.2,455.4 493.6,456.0 493.9,456.2 494.2,454.8 494.4,455.4 494.6,453.7 494.9,453.5 495.2,454.4 495.5,455.2 495.9,456.5 496.2,456.1 496.2,454.3 496.5,458.1 496.8,456.6 497.2,456.5 497.5,457.0 497.8,455.8 498.2,458.9 498.5,457.2 498.8,458.0 499.1,459.0 499.5,459.2 499.8,456.6 500.1,457.3 500.5,459.0 500.8,457.1 501.1,457.6 501.4,457.0 501.8,458.0 502.1,459.5 502.4,459.2 502.8,458.2 503.1,459.7 503.4,460.1 503.7,458.0 504.1,458.4 504.4,457.6 504.7,459.0 505.0,458.0 505.4,458.6 505.7,457.7 506.0,457.7 506.4,457.6 506.7,457.7 507.0,457.3 507.3,456.5 507.7,456.0 508.0,454.2 508.3,452.1 508.7,446.3 509.0,441.6 509.3,434.5 509.6,426.2 510.1,418.0 510.3,416.6 510.6,420.2 511.0,425.0 511.3,425.8 511.6,426.6 511.9,428.4 511.9,430.4 512.3,433.5 512.6,440.7 512.9,446.3 513.2,449.2 513.6,454.8 513.9,457.0 514.2,456.1 514.6,456.6 514.9,458.1 515.2,457.1 515.5,458.2 515.9,459.1 516.2,458.5 516.5,457.8 516.9,459.3 517.2,460.0 517.5,460.5 517.8,457.7 518.2,458.0 518.5,459.4 518.8,459.1 519.2,460.3 519.5,459.9 519.8,459.2 520.1,459.1 520.5,458.1 520.8,458.1 521.1,458.9 521.4,459.1 521.8,458.6 522.1,459.1 522.4,457.0 522.8,459.0 523.1,459.9 523.4,459.9 523.7,458.6 524.1,457.7 524.4,457.5 524.7,460.1 525.1,460.2 525.4,457.5 525.7,458.2 526.0,458.5 526.4,459.6 526.7,458.8 527.0,458.6 527.4,458.3 527.7,458.0 528.0,456.3 528.3,457.1 528.7,457.1 529.0,457.7 529.3,458.4 529.6,459.0 530.0,458.6 530.3,459.1 530.6,457.9 531.0,457.9 531.3,457.5 531.6,458.1 531.9,457.5 532.3,457.5 532.6,457.6 532.9,457.2 533.3,458.5 533.6,457.8 533.9,458.1 534.2,459.7 534.6,457.8 534.9,457.0 535.2,458.1 535.6,458.9 535.9,457.0 536.2,458.2 536.5,458.2 536.9,458.2 537.2,456.7 537.5,455.4 537.8,454.2 538.2,450.9 538.5,446.4 538.8,438.5 539.2,426.9 539.5,413.9 539.8,403.1 540.2,391.7 540.5,392.4 540.8,398.3 541.1,405.7 541.5,409.2 541.8,411.4 542.1,410.6 542.1,411.7 542.4,419.1 542.8,426.6 543.1,438.8 543.4,442.7 543.8,448.6 544.1,452.8 544.4,452.8 544.7,454.9 545.1,456.3 545.4,454.8 545.7,456.1 546.0,456.1 546.4,456.9 546.7,456.9 547.0,457.8 547.4,456.9 547.7,456.6 548.0,459.5 548.3,457.4 548.7,456.6 549.0,457.3 549.3,456.7 549.7,457.2 550.0,458.6 550.3,457.2 550.6,458.6 551.0,456.9 551.3,456.9 551.6,457.7 552.0,457.9 552.3,456.2 552.6,457.6 552.9,456.5 553.3,455.2 553.6,453.4 553.9,452.2 554.2,448.0 554.6,444.8 555.0,441.9 555.2,442.5 555.6,446.0 555.9,446.2 556.2,448.3 556.5,447.1 556.9,448.1 557.0,448.4 557.2,448.8 557.5,451.7 557.9,452.9 558.2,453.1 558.5,455.2 558.8,457.0 559.2,455.4 559.5,457.9 559.8,457.1 560.2,457.8 560.5,456.3 560.8,455.9 561.1,458.5 561.5,458.9 561.8,457.9 562.1,455.6 562.4,457.3 562.8,456.9 563.1,457.2 563.4,458.2 563.8,458.1 564.1,457.1 564.4,457.4 564.7,456.6 565.1,458.9 565.4,457.3 565.7,456.0 566.1,454.8 566.4,455.2 566.7,456.3 567.0,455.7 567.4,455.6 567.7,455.0 568.0,453.5 568.4,451.1 568.7,447.9 569.0,442.9 569.3,431.9 569.7,421.9 570.0,409.5 570.3,398.5 570.5,398.4 570.6,399.1 571.0,402.4 571.3,409.5 571.6,414.0 572.0,413.8 572.3,415.0 572.5,417.9 572.6,419.2 572.9,422.8 573.3,431.4 573.6,437.1 573.9,443.8 574.3,448.2 574.6,451.2 574.9,454.3 575.2,454.3 575.6,457.1 575.9,457.5 576.2,457.0 576.6,457.3 576.9,458.1 577.2,457.6 577.5,458.8 577.9,456.8 578.2,458.4 578.5,459.8 578.8,457.3 579.2,458.5 579.5,458.8 579.8,457.8 580.2,458.4 580.5,460.6 580.8,458.1 581.1,460.9 581.5,461.1 581.8,460.2 582.1,458.3 582.5,458.5 582.8,458.7 583.1,458.8 583.4,458.0 583.8,459.3 584.1,459.4 584.4,457.3 584.8,457.9 585.1,457.5 585.4,458.3 585.7,458.8 586.1,459.6 586.4,459.9 586.7,458.7 587.0,458.7 587.4,458.0 587.7,458.4 588.0,458.4 588.4,457.6 588.7,460.1 589.0,459.6 589.3,458.5 589.7,459.6 590.0,460.7 590.3,458.8 590.7,459.7 591.0,458.4 591.3,457.2 591.6,456.4 592.0,459.2 592.3,457.8 592.6,459.9 593.0,458.1 593.3,458.2 593.6,457.9 593.9,457.1 594.3,459.5 594.6,457.9 594.9,458.4 595.2,460.3 595.6,456.9 595.9,458.0 596.2,458.5 596.6,458.8 596.9,459.8 597.2,458.5 597.5,459.2 597.9,458.3 598.2,457.8 598.5,459.0 598.9,456.8 599.2,459.9 599.5,455.8 599.8,456.8 600.2,458.0 600.5,458.3 600.8,457.0 601.2,458.0 601.5,457.6 601.8,458.5 602.1,458.5 602.5,458.8 602.8,458.1 603.1,458.7 603.4,457.7 603.8,458.7 604.1,457.4 604.4,457.4 604.8,460.3 605.1,459.9 605.4,459.1 605.7,458.6 606.1,459.0 606.4,459.0"/>
<polyline fill="none" stroke="#000000" stroke-width="1.65" stroke-linejoin="round" points="81.6,433.4 81.9,434.1 82.3,435.3 82.6,435.1 82.9,435.3 83.2,434.3 83.6,434.1 83.9,433.8 84.2,434.8 84.6,435.5 84.9,435.4 85.2,434.5 85.5,434.9 85.9,434.3 86.2,435.9 86.5,434.2 86.8,435.0 87.2,434.9 87.5,434.2 87.8,435.4 88.2,437.4 88.5,434.8 88.8,433.9 89.1,433.8 89.5,433.0 89.8,434.8 90.1,435.9 90.5,436.8 90.8,435.9 91.1,436.3 91.4,435.7 91.8,433.3 92.1,431.8 92.4,428.1 92.8,420.4 93.0,418.3 93.4,419.6 93.7,421.6 93.7,423.9 94.1,426.3 94.4,429.6 94.7,431.6 95.0,433.1 95.4,432.2 95.7,432.5 96.0,433.5 96.4,433.2 96.7,433.5 97.0,433.0 97.3,431.8 97.7,431.6 98.0,432.8 98.3,433.8 98.7,433.5 99.0,434.5 99.3,433.4 99.6,433.9 100.0,435.1 100.3,434.4 100.6,433.0 101.0,435.2 101.3,436.0 101.6,433.2 101.9,432.5 102.3,433.2 102.6,435.1 102.9,433.5 103.2,433.3 103.6,432.6 103.9,435.3 104.2,433.9 104.6,434.7 104.9,434.3 105.2,434.1 105.5,434.8 105.9,435.1 106.2,432.3 106.5,432.3 106.9,433.3 107.2,434.4 107.5,434.3 107.8,434.7 108.2,434.6 108.5,435.9 108.8,435.5 109.2,436.0 109.5,435.4 109.8,436.2 110.1,434.3 110.5,435.5 110.8,435.5 111.1,434.2 111.4,435.0 111.8,435.0 112.1,436.0 112.4,434.9 112.8,434.8 113.1,433.9 113.4,433.9 113.7,433.0 114.1,433.8 114.4,434.7 114.7,435.9 115.1,432.3 115.4,433.2 115.7,435.7 116.0,434.4 116.4,432.8 116.7,434.7 117.0,433.6 117.4,433.2 117.7,433.7 118.0,434.2 118.3,434.3 118.7,434.5 119.0,433.9 119.3,433.0 119.6,432.5 120.0,433.2 120.3,433.8 120.6,434.0 121.0,436.1 121.3,434.3 121.6,434.8 121.9,433.9 122.3,434.9 122.6,435.1 122.9,434.0 123.3,433.5 123.6,432.5 123.9,433.6 124.2,432.2 124.6,434.6 124.9,433.3 125.2,434.1 125.6,433.4 125.9,433.1 126.2,432.0 126.5,432.7 126.9,431.4 127.2,434.1 127.5,432.1 127.8,432.6 128.2,434.1 128.5,432.3 128.8,433.1 129.2,430.4 129.5,430.9 129.8,432.0 130.1,431.4 130.5,432.5 130.8,433.8 131.0,432.1 131.5,432.1 131.8,430.4 131.8,431.3 132.1,431.1 132.4,431.5 132.8,430.1 133.1,433.3 133.4,432.3 133.8,431.2 134.1,430.8 134.4,431.3 134.7,432.3 135.1,434.6 135.4,433.0 135.7,431.6 136.0,432.8 136.4,432.7 136.7,434.2 137.0,432.3 137.4,432.2 137.7,431.8 138.0,433.4 138.3,432.0 138.7,434.0 139.0,435.2 139.3,434.9 139.7,434.3 140.0,433.1 140.3,431.8 140.6,432.5 141.0,432.9 141.3,433.7 141.6,433.0 142.0,434.0 142.3,433.5 142.6,432.6 142.9,435.4 143.3,434.8 143.6,434.2 143.9,433.9 144.2,434.4 144.6,432.6 144.9,434.7 145.2,435.3 145.6,435.2 145.9,434.1 146.2,435.5 146.5,435.5 146.9,436.3 147.2,436.1 147.5,435.2 147.9,434.5 148.2,434.5 148.5,434.4 148.8,435.0 149.2,434.5 149.5,435.3 149.8,434.6 150.2,434.8 150.5,435.5 150.8,436.4 151.1,433.6 151.5,436.4 151.8,434.8 152.1,434.8 152.4,433.7 152.8,433.6 153.1,433.5 153.4,434.7 153.8,434.5 154.1,432.8 154.4,434.1 154.7,433.1 155.1,433.9 155.4,433.6 155.7,435.3 156.1,434.4 156.4,432.6 156.7,432.1 157.0,433.6 157.4,433.8 157.7,435.0 158.0,434.7 158.4,435.1 158.7,433.7 159.0,433.4 159.3,433.5 159.7,433.2 160.0,435.1 160.3,435.3 160.6,434.1 161.0,435.1 161.3,435.4 161.6,433.9 162.0,432.8 162.3,434.3 162.6,432.7 162.9,433.2 163.3,436.4 163.6,434.4 163.9,433.9 164.3,434.1 164.6,434.7 164.9,435.5 165.2,434.5 165.6,434.7 165.9,435.8 166.2,434.5 166.6,433.8 166.9,433.1 167.2,435.1 167.5,434.5 167.9,434.6 168.2,434.4 168.5,433.9 168.8,434.3 169.2,435.5 169.5,433.9 169.8,434.7 170.2,433.0 170.5,433.5 170.8,435.9 171.1,433.0 171.5,434.8 171.8,433.9 172.1,434.3 172.5,436.6 172.8,434.8 173.1,434.2 173.4,434.3 173.8,434.1 174.1,436.5 174.4,436.9 174.8,435.6 175.1,436.1 175.4,436.1 175.7,434.7 176.1,435.6 176.4,437.2 176.7,437.2 177.0,435.6 177.4,434.5 177.7,433.9 178.0,432.7 178.4,434.5 178.7,432.7 179.0,435.6 179.3,434.1 179.7,432.6 180.0,434.1 180.3,434.1 180.7,434.1 181.0,430.1 181.3,430.9 181.6,426.5 182.0,421.7 182.3,410.0 182.6,388.9 182.9,378.6 183.3,380.4 183.6,387.8 183.8,395.1 183.9,397.4 184.3,410.6 184.6,421.4 184.9,427.7 185.2,431.1 185.6,432.6 185.9,432.5 186.2,433.2 186.6,433.7 186.9,432.9 187.2,434.1 187.5,434.8 187.9,432.9 188.2,434.3 188.5,434.8 188.9,433.6 189.2,434.1 189.5,434.5 189.8,434.2 190.2,434.9 190.5,433.5 190.8,433.5 191.2,434.5 191.5,433.3 191.8,434.9 192.1,434.1 192.5,434.7 192.8,435.4 193.1,435.5 193.4,433.7 193.8,435.4 194.1,435.1 194.4,434.8 194.8,435.6 195.1,434.9 195.4,434.6 195.7,434.3 196.1,435.1 196.4,434.7 196.7,434.7 197.1,433.2 197.4,434.0 197.7,434.7 198.0,433.6 198.4,436.4 198.7,435.6 199.0,434.6 199.4,435.2 199.7,433.1 200.0,433.3 200.3,434.8 200.7,433.4 201.0,435.5 201.3,434.6 201.6,433.8 202.0,433.1 202.3,434.7 202.6,433.9 203.0,434.8 203.3,434.1 203.6,436.0 203.9,434.5 204.3,432.8 204.6,432.1 204.9,434.1 205.3,433.6 205.6,433.0 205.9,432.2 206.2,432.5 206.6,431.0 206.9,430.1 207.2,428.8 207.6,425.5 207.9,413.5 208.2,392.7 208.5,370.0 208.7,364.7 208.9,365.0 209.2,372.2 209.5,381.7 209.7,384.8 209.8,390.7 210.2,405.6 210.5,418.3 210.8,428.2 211.2,430.1 211.5,431.0 211.8,432.2 212.1,433.0 212.5,433.1 212.8,432.8 213.1,433.6 213.5,434.6 213.8,433.9 214.1,432.9 214.4,434.0 214.8,433.6 215.1,436.2 215.4,433.1 215.8,431.9 216.1,431.8 216.4,434.3 216.7,431.7 217.1,433.0 217.4,432.7 217.7,434.9 218.0,434.0 218.4,435.2 218.7,432.8 219.0,433.6 219.4,433.8 219.7,433.9 220.0,433.2 220.3,432.9 220.7,433.9 221.0,434.3 221.3,433.6 221.7,434.6 222.0,432.8 222.3,434.0 222.6,434.7 223.0,433.6 223.3,435.2 223.6,434.1 224.0,434.8 224.3,433.3 224.6,433.2 224.9,434.2 225.3,434.5 225.6,436.0 225.9,433.6 226.2,435.1 226.6,435.7 226.9,434.4 227.2,434.6 227.6,434.7 227.9,434.5 228.2,433.5 228.5,434.5 228.9,436.1 229.2,434.4 229.5,434.1 229.9,433.0 230.2,435.4 230.5,433.6 230.8,434.0 231.2,434.3 231.5,435.3 231.8,433.8 232.2,435.3 232.5,434.7 232.8,434.9 233.1,431.8 233.5,431.9 233.8,432.9 234.1,432.6 234.4,433.6 234.8,433.9 235.1,432.7 235.4,433.4 235.8,433.4 236.1,434.8 236.4,434.0 236.7,433.5 237.1,433.9 237.4,435.0 237.7,432.6 238.1,433.5 238.4,435.1 238.7,433.7 239.0,432.6 239.4,432.5 239.7,433.2 240.0,433.2 240.4,432.7 240.7,432.1 241.0,433.2 241.3,432.5 241.7,433.1 242.0,433.3 242.3,432.5 242.6,433.5 243.0,433.0 243.3,433.1 243.6,433.0 244.0,432.5 244.3,431.4 244.6,432.1 244.9,432.6 245.3,432.7 245.6,432.1 245.9,432.3 246.3,431.1 246.6,430.8 246.9,430.9 247.2,431.6 247.6,431.1 247.9,431.6 248.2,432.3 248.6,430.2 248.9,432.2 249.2,431.8 249.5,431.0 249.9,431.1 250.2,431.6 250.5,431.3 250.8,428.7 251.2,428.1 251.5,429.1 251.8,428.2 252.2,427.6 252.5,425.8 252.8,424.7 253.1,420.2 253.5,410.2 253.8,376.5 254.1,286.5 254.6,152.1 254.8,171.4 255.1,246.1 255.4,258.3 255.7,252.5 255.8,254.5 256.1,321.2 256.4,385.8 256.8,412.9 257.1,420.4 257.4,424.3 257.7,425.4 258.1,425.5 258.4,427.0 258.7,427.5 259.0,426.5 259.4,427.6 259.7,427.5 260.0,429.0 260.4,428.4 260.7,426.9 261.0,426.0 261.3,427.2 261.7,428.1 262.0,427.8 262.3,428.1 262.7,427.1 263.0,427.9 263.1,429.3 263.3,429.9 263.6,428.8 264.0,429.7 264.3,429.0 264.6,429.6 265.0,428.9 265.3,430.2 265.6,429.7 265.9,429.0 266.3,432.2 266.6,429.3 266.9,429.8 267.2,431.4 267.6,431.1 267.9,431.7 268.2,433.0 268.6,430.9 268.9,431.4 269.2,432.3 269.5,430.7 269.9,432.2 270.2,432.7 270.5,434.0 270.9,432.5 271.2,434.0 271.5,432.4 271.8,432.2 272.2,431.1 272.5,433.5 272.8,432.3 273.2,432.0 273.5,433.2 273.8,430.8 274.1,431.2 274.5,431.4 274.8,433.7 275.1,432.1 275.4,433.0 275.8,434.1 276.1,434.4 276.4,433.0 276.8,432.4 277.1,432.7 277.4,434.1 277.7,433.5 278.1,434.9 278.4,434.6 278.7,434.9 279.1,434.0 279.4,433.8 279.7,434.0 280.0,434.9 280.4,433.5 280.7,432.1 281.0,432.9 281.4,435.0 281.7,432.6 282.0,433.8 282.3,435.2 282.7,434.2 283.0,434.3 283.3,433.9 283.6,434.3 284.0,432.9 284.3,434.0 284.6,434.6 285.0,433.5 285.3,434.6 285.6,434.4 285.9,433.7 286.3,433.3 286.6,433.2 286.9,432.0 287.3,431.1 287.6,434.2 287.9,432.8 288.2,432.1 288.6,432.3 288.9,433.0 289.2,432.9 289.6,432.9 289.9,432.4 290.2,433.3 290.5,433.1 290.9,434.4 291.2,435.5 291.5,435.6 291.8,433.9 292.2,435.1 292.5,435.5 292.8,433.5 293.2,432.8 293.5,435.6 293.8,435.0 294.1,434.3 294.5,434.2 294.8,434.4 295.1,434.5 295.5,433.3 295.8,431.2 296.1,430.5 296.4,429.9 296.8,431.0 297.1,430.6 297.4,427.3 297.8,422.7 298.1,411.4 298.4,395.5 298.8,382.6 299.1,384.8 299.4,390.1 299.7,395.5 300.0,400.0 300.0,398.1 300.4,407.2 300.7,415.8 301.0,423.6 301.4,431.2 301.7,431.7 302.0,432.6 302.3,431.8 302.7,433.0 303.0,433.4 303.3,433.0 303.7,435.1 304.0,434.3 304.3,433.3 304.6,433.7 305.0,432.8 305.3,433.2 305.6,435.9 306.0,431.9 306.3,432.5 306.6,432.4 306.9,434.4 307.3,434.6 307.6,432.3 307.9,434.0 308.2,434.4 308.6,433.2 308.9,432.7 309.2,434.6 309.6,435.5 309.9,435.3 310.2,435.9 310.5,435.7 310.9,433.3 311.2,433.8 311.5,433.4 311.9,434.6 312.2,434.0 312.5,433.3 312.8,435.0 313.2,434.8 313.5,434.1 313.8,434.5 314.2,434.0 314.5,434.0 314.8,435.9 315.1,434.6 315.5,433.9 315.8,434.1 316.1,434.4 316.4,432.6 316.8,432.3 317.1,433.2 317.4,431.0 317.8,429.7 318.1,429.1 318.4,427.2 318.7,423.0 319.0,421.1 319.4,422.8 319.7,424.6 320.1,424.8 320.3,425.9 320.4,426.6 320.7,429.1 321.0,429.4 321.4,432.7 321.7,431.9 322.0,433.2 322.4,433.6 322.7,433.0 323.0,433.6 323.3,433.8 323.7,433.1 324.0,434.4 324.3,434.6 324.6,434.7 325.0,432.5 325.3,433.5 325.6,432.8 326.0,434.7 326.3,432.4 326.6,433.0 326.9,433.8 327.3,433.6 327.6,432.1 327.9,433.3 328.3,434.4 328.6,434.6 328.9,433.7 329.2,434.8 329.6,433.5 329.9,435.3 330.2,435.1 330.6,434.6 330.9,434.4 331.2,434.0 331.5,435.8 331.9,434.2 332.2,436.2 332.5,434.9 332.8,434.2 333.2,435.1 333.5,434.4 333.8,433.2 334.2,435.4 334.5,432.9 334.8,435.8 335.1,433.8 335.5,433.5 335.8,433.4 336.1,434.4 336.5,432.6 336.8,434.5 337.1,434.2 337.4,435.6 337.8,434.0 338.1,435.0 338.4,435.8 338.8,437.2 339.1,434.4 339.4,434.1 339.7,435.6 340.1,432.9 340.4,433.1 340.7,434.8 341.0,434.9 341.4,434.8 341.7,435.2 342.0,434.4 342.4,434.4 342.7,434.8 343.0,435.2 343.3,432.8 343.7,434.7 344.0,432.5 344.3,434.5 344.7,434.2 345.0,433.3 345.3,435.2 345.6,436.2 346.0,434.2 346.3,435.3 346.6,433.9 347.0,434.0 347.3,435.8 347.6,434.6 347.9,434.1 348.3,434.4 348.6,432.5 348.9,434.0 349.2,434.7 349.6,435.2 349.9,433.8 350.2,434.7 350.6,433.8 350.9,434.3 351.2,434.0 351.5,432.5 351.9,435.4 352.2,433.9 352.5,433.9 352.9,433.6 353.2,432.1 353.5,432.0 353.8,431.5 354.2,432.1 354.5,432.1 354.8,430.9 355.2,429.7 355.5,431.8 355.8,432.5 356.1,429.7 356.5,422.7 356.8,415.5 357.1,399.3 357.4,379.1 357.8,367.4 358.1,370.2 358.4,379.0 358.8,385.2 359.1,385.4 359.2,388.7 359.4,393.6 359.7,403.0 360.1,415.4 360.4,423.5 360.7,429.5 361.1,428.4 361.4,431.1 361.7,431.0 362.0,431.5 362.4,430.4 362.7,431.9 363.0,431.3 363.4,429.4 363.7,430.3 364.0,429.3 364.3,430.4 364.7,428.7 365.0,429.3 365.3,428.8 365.7,429.4 366.0,428.6 366.3,429.8 366.6,429.9 367.0,431.3 367.1,430.7 367.3,430.6 367.6,430.5 367.9,430.6 368.3,433.6 368.6,431.2 368.9,431.4 369.3,432.5 369.6,431.8 369.9,434.0 370.2,433.1 370.6,432.2 370.9,431.1 371.2,432.6 371.6,431.7 371.9,431.9 372.2,433.1 372.5,431.7 372.9,431.9 373.2,431.7 373.5,433.7 373.8,433.0 374.2,433.3 374.5,432.5 374.8,429.7 375.2,424.8 375.5,422.1 375.8,417.8 376.0,416.6 376.5,417.8 376.8,421.3 377.1,422.9 377.4,421.9 377.5,420.5 377.8,425.1 378.1,427.8 378.4,431.4 378.8,431.1 379.1,432.6 379.4,432.8 379.8,436.7 380.1,435.1 380.4,434.7 380.7,434.3 381.1,434.7 381.4,435.8 381.7,433.6 382.0,434.3 382.4,435.7 382.7,434.5 383.0,434.3 383.4,434.8 383.7,433.9 384.0,434.1 384.3,432.7 384.7,433.7 385.0,433.6 385.3,433.7 385.7,434.0 386.0,434.0 386.3,435.1 386.6,432.9 387.0,432.7 387.3,432.1 387.6,433.6 388.0,434.2 388.3,434.5 388.6,431.9 388.9,430.7 389.3,433.1 389.6,433.5 389.9,433.8 390.2,433.0 390.6,433.4 390.9,432.9 391.2,433.6 391.6,433.3 391.9,433.2 392.2,433.9 392.5,433.8 392.9,432.5 393.2,431.6 393.5,433.6 393.9,434.5 394.2,433.7 394.5,434.2 394.8,435.6 395.2,434.2 395.5,431.6 395.8,435.3 396.2,434.7 396.5,432.4 396.8,434.1 397.1,431.7 397.5,432.5 397.8,434.1 398.1,433.3 398.4,432.7 398.8,432.7 399.1,434.1 399.4,432.8 399.8,430.9 400.1,432.5 400.4,433.5 400.7,432.0 401.1,433.6 401.4,433.6 401.7,433.9 402.1,433.7 402.4,434.7 402.7,433.9 403.0,434.4 403.4,433.4 403.7,434.7 404.0,433.3 404.4,436.9 404.7,434.7 405.0,435.5 405.3,435.0 405.7,433.0 406.0,432.6 406.3,434.0 406.6,435.7 407.0,434.6 407.3,435.2 407.6,434.3 408.0,433.6 408.3,433.6 408.6,433.7 408.9,435.2 409.3,433.9 409.6,434.0 409.9,433.6 410.3,433.2 410.6,434.0 410.9,435.0 411.2,434.1 411.6,434.9 411.9,433.5 412.2,433.8 412.6,433.8 412.9,434.6 413.2,434.1 413.5,435.6 413.9,435.0 414.2,436.5 414.5,434.8 414.8,435.3 415.2,435.5 415.5,434.6 415.8,434.7 416.2,432.8 416.5,433.1 416.8,433.0 417.1,433.7 417.5,431.7 417.8,434.1 418.1,431.8 418.5,433.3 418.8,432.8 419.1,430.4 419.4,434.3 419.8,433.7 420.1,432.9 420.4,432.8 420.8,432.9 421.1,432.8 421.4,434.1 421.7,433.8 422.1,433.8 422.4,432.8 422.7,433.6 423.0,432.7 423.4,431.5 423.7,431.5 424.0,433.7 424.4,431.9 424.7,430.7 425.0,432.8 425.3,429.7 425.7,431.4 426.0,430.1 426.3,430.7 426.7,428.8 427.0,427.3 427.3,424.1 427.6,418.5 428.0,405.6 428.3,389.1 428.6,373.8 428.9,366.5 429.3,371.3 429.6,379.8 429.9,387.6 430.3,387.1 430.5,389.4 430.6,389.7 430.9,399.6 431.2,410.2 431.6,418.5 431.9,424.7 432.2,427.6 432.6,430.8 432.9,429.8 433.2,431.7 433.5,433.0 433.9,432.2 434.2,430.9 434.5,431.6 434.9,431.6 435.2,430.5 435.5,433.3 435.8,431.8 436.2,433.1 436.5,434.2 436.8,433.2 437.2,433.7 437.5,434.5 437.8,434.8 438.1,432.5 438.5,433.0 438.8,435.4 439.1,433.4 439.4,435.1 439.8,435.8 440.1,435.7 440.4,435.5 440.8,434.5 441.1,433.6 441.4,434.3 441.7,433.6 442.1,432.6 442.4,434.4 442.7,434.1 443.1,435.0 443.4,432.7 443.7,433.6 444.0,434.0 444.4,433.7 444.7,431.9 445.0,434.1 445.4,432.5 445.7,433.3 446.0,433.0 446.3,431.4 446.7,433.9 447.0,434.0 447.3,432.7 447.6,433.0 448.0,433.4 448.3,432.7 448.6,433.4 449.0,432.5 449.3,430.7 449.6,433.6 449.9,433.2 450.3,433.4 450.6,433.9 450.9,432.0 451.3,433.8 451.6,433.9 451.9,432.9 452.2,432.9 452.6,433.2 452.9,433.7 453.2,432.9 453.6,433.4 453.9,432.4 454.2,433.0 454.5,432.4 454.9,433.2 455.2,432.4 455.5,429.8 455.8,432.7 456.2,431.9 456.5,431.9 456.8,431.6 457.0,430.7 457.2,429.9 457.5,431.0 457.8,431.3 458.1,431.3 458.5,431.0 458.7,431.2 458.8,433.0 459.1,430.6 459.5,430.6 459.8,430.4 460.1,432.1 460.4,432.9 460.8,432.5 461.1,434.1 461.4,432.8 461.8,432.6 462.1,433.8 462.4,433.1 462.7,436.7 463.1,434.6 463.4,432.8 463.7,436.1 464.0,434.9 464.4,433.7 464.7,434.5 465.0,434.8 465.4,434.0 465.7,434.8 466.0,434.6 466.3,433.7 466.7,436.6 467.0,435.0 467.3,433.4 467.7,432.7 468.0,435.3 468.3,435.2 468.6,432.4 469.0,433.7 469.3,433.6 469.6,432.7 470.0,434.0 470.3,433.1 470.6,433.7 470.9,433.1 471.3,434.6 471.6,434.7 471.9,435.9 472.2,432.2 472.6,433.5 472.9,433.0 473.2,434.4 473.6,434.8 473.9,436.1 474.2,435.2 474.5,435.2 474.9,437.1 475.2,435.4 475.5,433.6 475.9,432.9 476.2,434.6 476.5,433.7 476.8,435.2 477.2,436.0 477.5,434.0 477.8,435.6 478.2,433.5 478.5,434.5 478.8,432.5 479.1,433.7 479.5,432.3 479.8,432.8 480.1,431.2 480.4,432.3 480.6,431.1 480.8,432.0 481.1,431.1 481.4,431.4 481.8,433.4 482.1,433.4 482.4,434.3 482.4,434.6 482.7,432.4 483.1,432.3 483.4,433.9 483.7,434.2 484.1,433.8 484.4,433.3 484.7,433.7 485.0,433.3 485.4,434.0 485.7,433.3 486.0,433.9 486.4,433.7 486.7,433.1 487.0,434.3 487.3,432.9 487.7,432.8 488.0,431.9 488.3,433.6 488.6,433.4 489.0,433.2 489.3,432.1 489.6,432.3 490.0,431.2 490.3,433.9 490.6,430.7 490.9,431.0 491.3,432.0 491.6,432.0 491.9,431.5 492.3,431.2 492.6,432.1 492.9,430.2 493.2,429.6 493.6,429.4 493.9,427.0 494.2,429.3 494.4,427.7 494.6,429.9 494.9,429.1 495.2,431.0 495.5,429.9 495.9,431.3 496.2,432.4 496.2,431.6 496.5,432.7 496.8,433.2 497.2,433.5 497.5,435.1 497.8,434.2 498.2,435.7 498.5,433.0 498.8,432.0 499.1,434.9 499.5,432.4 499.8,434.2 500.1,433.8 500.5,433.1 500.8,434.0 501.1,435.2 501.4,433.4 501.8,434.0 502.1,435.0 502.4,433.5 502.8,434.0 503.1,434.3 503.4,435.4 503.7,435.4 504.1,433.0 504.4,433.7 504.7,433.8 505.0,431.8 505.4,432.5 505.7,433.2 506.0,433.3 506.4,433.3 506.7,432.9 507.0,431.8 507.3,433.2 507.7,430.9 508.0,429.7 508.3,427.2 508.7,423.9 509.0,415.1 509.3,405.3 509.6,394.0 510.1,383.6 510.3,383.6 510.6,389.4 511.0,396.0 511.3,399.3 511.6,398.5 511.9,400.9 511.9,398.9 512.3,404.4 512.6,411.9 512.9,418.9 513.2,424.5 513.6,427.9 513.9,433.3 514.2,432.3 514.6,429.7 514.9,431.4 515.2,431.0 515.5,433.2 515.9,434.6 516.2,433.4 516.5,433.5 516.9,433.6 517.2,432.3 517.5,432.6 517.8,430.6 518.2,431.4 518.5,432.9 518.8,434.2 519.2,431.8 519.5,433.6 519.8,432.3 520.1,431.5 520.5,432.5 520.8,431.0 521.1,433.8 521.4,431.5 521.8,432.1 522.1,433.4 522.4,432.4 522.8,432.7 523.1,432.6 523.4,433.0 523.7,433.4 524.1,433.7 524.4,433.5 524.7,432.2 525.1,432.4 525.4,432.2 525.7,432.0 526.0,435.8 526.4,433.5 526.7,432.8 527.0,433.6 527.4,433.5 527.7,432.9 528.0,433.2 528.3,434.1 528.7,433.7 529.0,432.4 529.3,433.2 529.6,431.9 530.0,432.0 530.3,433.3 530.6,433.4 531.0,433.5 531.3,432.5 531.6,433.9 531.9,431.1 532.3,431.3 532.6,431.7 532.9,433.3 533.3,432.0 533.6,431.0 533.9,431.3 534.2,431.9 534.6,429.4 534.9,430.5 535.2,430.9 535.6,429.1 535.9,430.8 536.2,430.5 536.5,431.1 536.9,429.0 537.2,428.8 537.5,428.4 537.8,427.2 538.2,423.9 538.5,420.2 538.8,413.0 539.2,398.0 539.5,380.6 539.8,362.7 540.2,350.2 540.5,352.4 540.8,364.3 541.1,375.0 541.5,378.9 541.8,378.2 542.1,378.0 542.1,378.5 542.4,384.4 542.8,394.8 543.1,408.7 543.4,416.3 543.8,423.7 544.1,427.0 544.4,429.4 544.7,429.3 545.1,428.9 545.4,430.0 545.7,430.6 546.0,431.8 546.4,432.7 546.7,431.1 547.0,430.7 547.4,429.8 547.7,432.1 548.0,431.4 548.3,431.2 548.7,431.0 549.0,430.6 549.3,433.0 549.7,430.3 550.0,430.0 550.3,430.7 550.6,431.5 551.0,431.2 551.3,428.1 551.6,428.7 552.0,430.0 552.3,429.4 552.6,428.1 552.9,427.6 553.3,425.3 553.6,421.8 553.9,420.5 554.2,417.9 554.6,415.2 555.0,413.7 555.2,412.9 555.6,412.5 555.9,413.3 556.2,416.7 556.5,416.3 556.9,416.8 557.0,416.4 557.2,419.1 557.5,420.6 557.9,423.0 558.2,425.5 558.5,425.5 558.8,427.7 559.2,429.2 559.5,427.6 559.8,427.6 560.2,429.4 560.5,430.3 560.8,430.4 561.1,432.3 561.5,430.4 561.8,430.9 562.1,431.5 562.4,431.1 562.8,433.0 563.1,434.2 563.4,432.0 563.8,433.0 564.1,432.9 564.4,431.1 564.7,430.3 565.1,431.4 565.4,430.4 565.7,429.8 566.1,430.1 566.4,429.8 566.7,428.9 567.0,430.0 567.4,429.0 567.7,429.4 568.0,428.4 568.4,427.6 568.7,423.8 569.0,418.2 569.3,407.9 569.7,393.0 570.0,375.9 570.3,360.4 570.5,359.5 570.6,359.8 571.0,367.3 571.3,379.4 571.6,386.1 572.0,386.4 572.3,384.6 572.5,386.4 572.6,386.9 572.9,395.4 573.3,404.4 573.6,413.9 573.9,420.2 574.3,426.7 574.6,429.7 574.9,430.3 575.2,429.5 575.6,428.3 575.9,430.8 576.2,433.4 576.6,432.9 576.9,431.4 577.2,432.1 577.5,430.6 577.9,433.1 578.2,432.8 578.5,434.4 578.8,433.3 579.2,433.9 579.5,431.8 579.8,432.6 580.2,432.2 580.5,431.6 580.8,432.8 581.1,432.3 581.5,435.0 581.8,435.6 582.1,434.2 582.5,434.5 582.8,433.2 583.1,434.5 583.4,433.3 583.8,432.6 584.1,432.9 584.4,431.5 584.8,434.1 585.1,435.0 585.4,434.8 585.7,433.8 586.1,434.6 586.4,433.5 586.7,434.1 587.0,433.0 587.4,434.0 587.7,433.5 588.0,432.8 588.4,435.0 588.7,434.2 589.0,434.6 589.3,432.5 589.7,431.4 590.0,434.2 590.3,433.8 590.7,433.3 591.0,431.9 591.3,432.8 591.6,433.9 592.0,433.5 592.3,434.6 592.6,432.3 593.0,433.9 593.3,434.7 593.6,434.2 593.9,432.3 594.3,433.7 594.6,433.3 594.9,433.2 595.2,433.3 595.6,433.9 595.9,435.8 596.2,434.4 596.6,434.5 596.9,433.4 597.2,433.2 597.5,434.0 597.9,434.3 598.2,433.5 598.5,434.7 598.9,433.3 599.2,433.3 599.5,434.5 599.8,433.5 600.2,433.6 600.5,433.5 600.8,433.3 601.2,435.2 601.5,435.6 601.8,431.7 602.1,434.2 602.5,434.2 602.8,433.0 603.1,433.9 603.4,435.7 603.8,432.8 604.1,433.3 604.4,434.1 604.8,432.7 605.1,433.3 605.4,434.9 605.7,434.2 606.1,435.0 606.4,436.9"/>
<polyline fill="none" stroke="#25a84a" stroke-width="1.65" stroke-linejoin="round" points="81.6,410.9 81.9,411.1 82.3,408.4 82.6,409.7 82.9,409.6 83.2,409.8 83.6,410.0 83.9,410.6 84.2,410.9 84.6,410.1 84.9,409.4 85.2,410.4 85.5,408.3 85.9,409.9 86.2,411.9 86.5,409.4 86.8,411.1 87.2,411.1 87.5,412.4 87.8,409.2 88.2,409.9 88.5,410.9 88.8,410.7 89.1,410.7 89.5,410.4 89.8,410.6 90.1,409.7 90.5,409.4 90.8,410.9 91.1,410.6 91.4,407.7 91.8,408.9 92.1,408.7 92.4,402.6 92.8,396.8 93.0,391.5 93.4,393.7 93.7,398.6 93.7,398.3 94.1,403.1 94.4,407.8 94.7,410.0 95.0,409.6 95.4,410.9 95.7,410.8 96.0,410.5 96.4,409.7 96.7,409.5 97.0,411.8 97.3,410.0 97.7,410.0 98.0,412.2 98.3,412.5 98.7,411.5 99.0,410.5 99.3,410.1 99.6,409.8 100.0,407.8 100.3,410.6 100.6,411.0 101.0,412.3 101.3,407.6 101.6,410.4 101.9,411.6 102.3,411.2 102.6,411.4 102.9,409.2 103.2,410.1 103.6,410.0 103.9,408.4 104.2,412.1 104.6,410.7 104.9,407.8 105.2,408.7 105.5,409.1 105.9,409.3 106.2,408.2 106.5,409.2 106.9,411.0 107.2,410.6 107.5,411.1 107.8,410.4 108.2,411.4 108.5,408.7 108.8,409.7 109.2,412.0 109.5,410.5 109.8,410.2 110.1,411.1 110.5,410.7 110.8,411.1 111.1,411.8 111.4,411.7 111.8,410.4 112.1,410.8 112.4,411.0 112.8,411.1 113.1,411.3 113.4,410.9 113.7,412.0 114.1,409.4 114.4,411.1 114.7,408.6 115.1,409.0 115.4,410.0 115.7,411.5 116.0,411.1 116.4,412.1 116.7,411.4 117.0,410.2 117.4,409.9 117.7,408.6 118.0,410.9 118.3,411.4 118.7,410.4 119.0,410.8 119.3,412.0 119.6,409.7 120.0,410.1 120.3,409.9 120.6,409.4 121.0,408.2 121.3,411.3 121.6,409.7 121.9,409.6 122.3,410.2 122.6,409.7 122.9,410.6 123.3,410.7 123.6,410.8 123.9,409.3 124.2,409.9 124.6,410.5 124.9,409.7 125.2,409.3 125.6,410.7 125.9,410.8 126.2,409.2 126.5,410.5 126.9,410.0 127.2,410.4 127.5,409.7 127.8,412.4 128.2,411.2 128.5,411.9 128.8,411.0 129.2,409.8 129.5,410.6 129.8,410.2 130.1,411.5 130.5,410.6 130.8,411.9 131.0,410.2 131.5,409.2 131.8,409.4 131.8,410.5 132.1,410.3 132.4,410.2 132.8,409.4 133.1,411.1 133.4,410.0 133.8,410.1 134.1,410.7 134.4,409.7 134.7,409.6 135.1,410.3 135.4,409.9 135.7,408.9 136.0,412.0 136.4,411.5 136.7,411.2 137.0,409.0 137.4,409.4 137.7,410.1 138.0,409.7 138.3,408.6 138.7,410.5 139.0,411.0 139.3,411.5 139.7,410.5 140.0,410.4 140.3,409.8 140.6,409.3 141.0,410.0 141.3,410.8 141.6,407.4 142.0,408.0 142.3,409.5 142.6,410.1 142.9,409.0 143.3,410.0 143.6,408.3 143.9,409.9 144.2,409.5 144.6,408.0 144.9,410.3 145.2,410.3 145.6,408.3 145.9,409.7 146.2,410.0 146.5,408.7 146.9,410.4 147.2,409.6 147.5,410.4 147.9,411.0 148.2,410.1 148.5,408.9 148.8,410.1 149.2,410.5 149.5,409.0 149.8,408.7 150.2,410.2 150.5,409.9 150.8,408.8 151.1,409.3 151.5,409.8 151.8,408.7 152.1,409.5 152.4,409.6 152.8,409.8 153.1,411.1 153.4,409.5 153.8,410.4 154.1,410.3 154.4,410.1 154.7,411.0 155.1,410.7 155.4,408.8 155.7,409.7 156.1,409.3 156.4,410.5 156.7,411.0 157.0,410.2 157.4,410.7 157.7,409.9 158.0,410.0 158.4,410.1 158.7,410.7 159.0,410.4 159.3,409.7 159.7,409.7 160.0,409.1 160.3,410.5 160.6,410.4 161.0,408.6 161.3,410.5 161.6,409.6 162.0,409.8 162.3,409.4 162.6,409.2 162.9,409.7 163.3,407.7 163.6,407.3 163.9,409.1 164.3,409.9 164.6,408.3 164.9,409.3 165.2,408.6 165.6,409.0 165.9,410.2 166.2,411.9 166.6,410.5 166.9,411.1 167.2,410.3 167.5,411.6 167.9,409.8 168.2,409.5 168.5,410.8 168.8,408.9 169.2,410.1 169.5,410.7 169.8,411.8 170.2,410.1 170.5,410.8 170.8,412.0 171.1,412.9 171.5,410.5 171.8,410.5 172.1,409.3 172.5,411.2 172.8,411.6 173.1,410.3 173.4,411.7 173.8,410.8 174.1,410.9 174.4,410.4 174.8,411.9 175.1,409.8 175.4,409.0 175.7,410.4 176.1,412.6 176.4,411.4 176.7,409.5 177.0,409.2 177.4,409.9 177.7,410.1 178.0,410.2 178.4,411.3 178.7,410.3 179.0,409.6 179.3,407.9 179.7,408.0 180.0,410.0 180.3,408.4 180.7,410.5 181.0,406.4 181.3,406.7 181.6,405.8 182.0,399.2 182.3,383.8 182.6,362.0 182.9,348.9 183.3,354.8 183.6,362.2 183.8,366.8 183.9,372.8 184.3,387.5 184.6,399.9 184.9,404.6 185.2,406.8 185.6,407.1 185.9,407.7 186.2,409.3 186.6,408.1 186.9,409.7 187.2,408.9 187.5,408.2 187.9,409.5 188.2,410.0 188.5,409.4 188.9,409.9 189.2,408.6 189.5,409.3 189.8,408.8 190.2,409.7 190.5,409.9 190.8,410.5 191.2,410.7 191.5,409.3 191.8,409.9 192.1,409.5 192.5,410.5 192.8,410.5 193.1,408.2 193.4,410.8 193.8,410.6 194.1,411.3 194.4,409.5 194.8,410.0 195.1,411.0 195.4,410.1 195.7,411.7 196.1,411.4 196.4,411.9 196.7,412.3 197.1,410.2 197.4,408.9 197.7,410.6 198.0,410.6 198.4,410.3 198.7,410.3 199.0,410.6 199.4,410.3 199.7,409.2 200.0,411.6 200.3,409.5 200.7,411.2 201.0,411.0 201.3,410.0 201.6,411.3 202.0,410.7 202.3,409.8 202.6,410.2 203.0,408.0 203.3,409.3 203.6,408.1 203.9,409.7 204.3,410.5 204.6,410.4 204.9,409.1 205.3,408.5 205.6,409.0 205.9,408.3 206.2,406.7 206.6,407.6 206.9,407.2 207.2,405.2 207.6,400.1 207.9,388.5 208.2,367.2 208.5,341.7 208.7,333.1 208.9,333.8 209.2,343.7 209.5,353.1 209.7,356.6 209.8,363.8 210.2,380.0 210.5,394.5 210.8,404.1 211.2,406.9 211.5,407.6 211.8,406.6 212.1,407.4 212.5,408.6 212.8,408.3 213.1,409.4 213.5,408.9 213.8,410.5 214.1,411.3 214.4,409.0 214.8,409.6 215.1,412.4 215.4,410.9 215.8,411.9 216.1,409.2 216.4,410.9 216.7,411.6 217.1,408.9 217.4,409.3 217.7,409.3 218.0,412.5 218.4,411.8 218.7,409.8 219.0,408.9 219.4,410.3 219.7,411.2 220.0,411.9 220.3,410.3 220.7,410.9 221.0,409.8 221.3,411.7 221.7,413.0 222.0,411.7 222.3,410.3 222.6,411.7 223.0,412.4 223.3,412.1 223.6,410.9 224.0,411.1 224.3,410.4 224.6,410.8 224.9,411.1 225.3,408.6 225.6,410.1 225.9,409.1 226.2,408.8 226.6,410.0 226.9,411.6 227.2,408.6 227.6,410.1 227.9,407.4 228.2,411.2 228.5,410.1 228.9,410.9 229.2,409.3 229.5,410.0 229.9,409.9 230.2,409.8 230.5,409.6 230.8,411.4 231.2,410.0 231.5,409.4 231.8,409.5 232.2,410.2 232.5,410.7 232.8,409.4 233.1,410.2 233.5,409.4 233.8,411.0 234.1,410.2 234.4,409.7 234.8,409.2 235.1,409.1 235.4,411.5 235.8,409.6 236.1,408.6 236.4,410.8 236.7,409.6 237.1,410.0 237.4,409.2 237.7,408.3 238.1,410.5 238.4,408.0 238.7,407.9 239.0,409.1 239.4,408.2 239.7,409.9 240.0,408.8 240.4,410.1 240.7,411.9 241.0,410.6 241.3,409.3 241.7,407.2 242.0,408.9 242.3,408.8 242.6,410.2 243.0,408.2 243.3,407.4 243.6,406.5 244.0,409.6 244.3,407.2 244.6,408.8 244.9,410.3 245.3,410.0 245.6,409.4 245.9,407.4 246.3,407.9 246.6,408.6 246.9,408.0 247.2,409.4 247.6,406.4 247.9,406.8 248.2,405.7 248.6,405.6 248.9,408.0 249.2,407.1 249.5,408.3 249.9,405.3 250.2,404.9 250.5,405.9 250.8,405.9 251.2,405.6 251.5,406.2 251.8,405.1 252.2,403.6 252.5,404.6 252.8,402.7 253.1,404.1 253.5,404.0 253.8,402.4 254.1,399.2 254.5,398.0 254.8,392.5 255.1,377.5 255.4,322.1 255.8,195.9 256.1,98.3 256.4,169.9 256.8,235.8 257.1,212.4 257.2,210.8 257.4,238.8 257.7,324.8 258.1,375.7 258.4,390.6 258.7,396.0 259.0,400.0 259.4,402.5 259.7,401.9 260.0,402.0 260.4,402.9 260.7,399.8 261.0,402.4 261.3,401.8 261.7,402.4 262.0,401.9 262.3,401.3 262.7,402.1 263.0,402.7 263.1,401.9 263.3,403.4 263.6,402.8 264.0,402.7 264.3,404.2 264.6,403.4 265.0,405.4 265.3,405.2 265.6,407.8 265.9,407.2 266.3,405.9 266.6,405.7 266.9,406.1 267.2,407.1 267.6,406.1 267.9,407.3 268.2,405.7 268.6,407.2 268.9,407.9 269.2,407.4 269.5,408.8 269.9,408.6 270.2,408.9 270.5,407.8 270.9,408.0 271.2,406.1 271.5,408.0 271.8,407.4 272.2,407.8 272.5,406.5 272.8,408.4 273.2,408.9 273.5,409.3 273.8,409.1 274.1,409.0 274.5,410.5 274.8,408.6 275.1,407.8 275.4,409.9 275.8,408.6 276.1,407.3 276.4,408.9 276.8,409.4 277.1,410.1 277.4,410.2 277.7,409.2 278.1,408.4 278.4,409.4 278.7,407.6 279.1,408.3 279.4,408.9 279.7,409.0 280.0,409.8 280.4,409.4 280.7,409.0 281.0,408.2 281.4,409.6 281.7,408.1 282.0,409.1 282.3,408.4 282.7,408.3 283.0,409.8 283.3,408.7 283.6,409.1 284.0,409.8 284.3,410.1 284.6,409.5 285.0,411.3 285.3,410.9 285.6,409.3 285.9,409.2 286.3,409.9 286.6,410.3 286.9,408.9 287.3,408.7 287.6,409.6 287.9,407.0 288.2,409.2 288.6,408.2 288.9,408.7 289.2,410.2 289.6,409.0 289.9,409.2 290.2,409.5 290.5,410.4 290.9,408.8 291.2,408.3 291.5,409.9 291.8,407.8 292.2,408.9 292.5,409.1 292.8,409.4 293.2,409.2 293.5,407.4 293.8,408.0 294.1,406.9 294.5,409.3 294.8,409.0 295.1,408.3 295.5,407.3 295.8,407.6 296.1,406.8 296.4,405.9 296.8,406.4 297.1,404.6 297.4,403.8 297.8,396.4 298.1,385.2 298.4,367.0 298.8,352.2 299.1,353.9 299.4,361.5 299.7,365.3 300.0,371.9 300.0,372.9 300.4,380.9 300.7,392.7 301.0,399.4 301.4,404.9 301.7,405.0 302.0,407.1 302.3,405.4 302.7,407.1 303.0,407.9 303.3,408.9 303.7,407.3 304.0,409.1 304.3,409.3 304.6,409.2 305.0,410.0 305.3,407.9 305.6,408.5 306.0,407.0 306.3,409.2 306.6,409.3 306.9,408.8 307.3,407.8 307.6,410.3 307.9,408.6 308.2,409.0 308.6,409.8 308.9,410.4 309.2,409.7 309.6,409.4 309.9,409.1 310.2,409.3 310.5,409.6 310.9,412.2 311.2,411.2 311.5,409.9 311.9,410.9 312.2,410.9 312.5,410.1 312.8,410.7 313.2,409.3 313.5,408.9 313.8,411.4 314.2,411.4 314.5,409.7 314.8,410.6 315.1,408.9 315.5,408.6 315.8,410.5 316.1,408.0 316.4,409.4 316.8,409.3 317.1,409.1 317.4,408.1 317.8,407.9 318.1,405.1 318.4,401.0 318.7,395.1 319.0,392.0 319.4,391.1 319.7,394.5 320.1,396.5 320.3,398.6 320.4,397.8 320.7,400.9 321.0,403.7 321.4,407.6 321.7,409.1 322.0,408.0 322.4,407.6 322.7,408.1 323.0,408.3 323.3,409.5 323.7,410.2 324.0,409.6 324.3,408.3 324.6,409.5 325.0,407.5 325.3,409.1 325.6,408.5 326.0,408.2 326.3,408.2 326.6,409.1 326.9,410.9 327.3,410.9 327.6,410.8 327.9,409.3 328.3,409.0 328.6,409.4 328.9,408.4 329.2,410.5 329.6,409.8 329.9,407.8 330.2,408.3 330.6,409.0 330.9,406.7 331.2,408.1 331.5,408.8 331.9,409.7 332.2,409.4 332.5,408.9 332.8,408.3 333.2,408.2 333.5,409.3 333.8,408.3 334.2,407.7 334.5,409.9 334.8,409.0 335.1,409.2 335.5,410.1 335.8,409.4 336.1,407.3 336.5,409.4 336.8,408.7 337.1,409.0 337.4,409.2 337.8,410.2 338.1,408.8 338.4,408.2 338.8,408.4 339.1,407.6 339.4,407.4 339.7,409.0 340.1,407.6 340.4,408.1 340.7,409.6 341.0,410.0 341.4,407.8 341.7,407.8 342.0,407.7 342.4,408.4 342.7,410.1 343.0,407.4 343.3,407.3 343.7,406.9 344.0,407.1 344.3,406.8 344.7,409.3 345.0,407.5 345.3,408.2 345.6,410.1 346.0,409.1 346.3,407.4 346.6,408.4 347.0,409.6 347.3,409.4 347.6,406.9 347.9,408.6 348.3,409.5 348.6,409.9 348.9,408.0 349.2,408.7 349.6,407.5 349.9,410.2 350.2,408.0 350.6,408.2 350.9,409.9 351.2,408.7 351.5,408.5 351.9,407.4 352.2,407.7 352.5,409.1 352.9,409.1 353.2,407.8 353.5,407.0 353.8,406.3 354.2,405.5 354.5,406.2 354.8,405.4 355.2,405.4 355.5,404.3 355.8,405.0 356.1,401.8 356.5,398.6 356.8,387.4 357.1,372.9 357.4,350.1 357.8,336.2 358.1,339.6 358.4,351.4 358.8,357.7 359.1,359.1 359.2,358.1 359.4,364.1 359.7,379.1 360.1,392.6 360.4,399.5 360.7,404.5 361.1,406.0 361.4,405.2 361.7,408.6 362.0,407.0 362.4,405.7 362.7,406.3 363.0,404.3 363.4,405.0 363.7,404.8 364.0,405.1 364.3,405.3 364.7,404.3 365.0,405.8 365.3,404.7 365.7,405.1 366.0,404.7 366.3,405.1 366.6,405.3 367.0,407.6 367.1,405.9 367.3,405.6 367.6,407.4 367.9,406.5 368.3,406.9 368.6,406.2 368.9,407.6 369.3,406.8 369.6,407.8 369.9,408.3 370.2,408.7 370.6,408.0 370.9,408.5 371.2,408.0 371.6,407.8 371.9,408.5 372.2,409.5 372.5,408.7 372.9,408.4 373.2,406.6 373.5,410.1 373.8,409.0 374.2,408.8 374.5,407.4 374.8,407.4 375.2,402.2 375.5,399.0 375.8,392.2 376.0,391.6 376.5,393.6 376.8,394.6 377.1,397.7 377.4,396.0 377.5,396.5 377.8,399.0 378.1,403.4 378.4,407.6 378.8,408.9 379.1,409.4 379.4,409.0 379.8,409.8 380.1,409.4 380.4,408.6 380.7,408.9 381.1,410.8 381.4,410.1 381.7,408.3 382.0,409.3 382.4,408.8 382.7,410.0 383.0,410.2 383.4,409.6 383.7,409.3 384.0,409.4 384.3,408.4 384.7,410.2 385.0,410.4 385.3,409.7 385.7,407.1 386.0,409.5 386.3,409.2 386.6,408.7 387.0,409.1 387.3,410.2 387.6,410.1 388.0,408.9 388.3,409.2 388.6,411.2 388.9,409.2 389.3,409.3 389.6,410.5 389.9,409.5 390.2,410.7 390.6,409.6 390.9,411.2 391.2,411.0 391.6,410.7 391.9,409.9 392.2,413.4 392.5,409.9 392.9,411.3 393.2,411.9 393.5,411.2 393.9,412.1 394.2,409.6 394.5,411.9 394.8,411.1 395.2,410.5 395.5,412.2 395.8,409.6 396.2,410.5 396.5,407.8 396.8,409.9 397.1,409.6 397.5,409.5 397.8,409.2 398.1,408.9 398.4,410.1 398.8,410.8 399.1,410.5 399.4,410.6 399.8,408.3 400.1,410.3 400.4,408.6 400.7,408.9 401.1,410.1 401.4,409.8 401.7,411.7 402.1,410.4 402.4,409.6 402.7,408.7 403.0,408.7 403.4,410.2 403.7,410.1 404.0,409.0 404.4,408.2 404.7,409.4 405.0,411.4 405.3,410.8 405.7,410.0 406.0,409.5 406.3,410.5 406.6,408.6 407.0,411.2 407.3,408.7 407.6,409.1 408.0,411.7 408.3,409.1 408.6,409.8 408.9,410.5 409.3,409.7 409.6,409.5 409.9,411.7 410.3,410.2 410.6,410.1 410.9,411.0 411.2,409.7 411.6,409.3 411.9,409.7 412.2,409.4 412.6,410.2 412.9,409.2 413.2,408.4 413.5,409.8 413.9,409.2 414.2,408.5 414.5,410.3 414.8,410.8 415.2,409.3 415.5,409.5 415.8,408.3 416.2,408.1 416.5,409.6 416.8,409.6 417.1,410.3 417.5,407.7 417.8,407.7 418.1,408.2 418.5,410.8 418.8,410.2 419.1,410.1 419.4,409.5 419.8,408.1 420.1,408.7 420.4,409.6 420.8,407.3 421.1,407.8 421.4,408.2 421.7,408.2 422.1,407.9 422.4,408.5 422.7,407.4 423.0,408.1 423.4,408.6 423.7,405.3 424.0,408.3 424.4,408.4 424.7,407.8 425.0,409.2 425.3,408.8 425.7,407.1 426.0,407.3 426.3,407.2 426.7,405.3 427.0,405.0 427.3,401.0 427.6,394.6 428.0,382.6 428.3,363.2 428.6,346.2 428.9,335.8 429.3,343.6 429.6,355.1 429.9,360.8 430.3,359.6 430.5,360.8 430.6,362.2 430.9,371.5 431.2,385.0 431.6,394.8 431.9,402.3 432.2,403.8 432.6,404.9 432.9,407.2 433.2,405.8 433.5,409.0 433.9,408.2 434.2,408.2 434.5,408.6 434.9,411.6 435.2,409.1 435.5,409.2 435.8,407.5 436.2,408.7 436.5,408.8 436.8,409.8 437.2,408.6 437.5,408.5 437.8,408.2 438.1,409.1 438.5,410.4 438.8,407.6 439.1,409.0 439.4,408.9 439.8,409.6 440.1,407.9 440.4,407.5 440.8,407.9 441.1,410.4 441.4,409.6 441.7,409.3 442.1,408.8 442.4,408.3 442.7,409.1 443.1,409.9 443.4,410.3 443.7,409.1 444.0,411.5 444.4,407.5 444.7,410.2 445.0,409.5 445.4,410.6 445.7,410.1 446.0,410.3 446.3,410.4 446.7,409.5 447.0,410.6 447.3,410.3 447.6,409.5 448.0,408.3 448.3,410.8 448.6,409.8 449.0,409.1 449.3,408.7 449.6,410.5 449.9,407.5 450.3,409.4 450.6,410.1 450.9,408.8 451.3,410.6 451.6,408.2 451.9,407.7 452.2,405.4 452.6,406.2 452.9,407.7 453.2,406.8 453.6,405.6 453.9,405.7 454.2,404.4 454.5,403.8 454.9,404.4 455.2,404.6 455.5,405.2 455.8,403.2 456.2,404.5 456.5,403.4 456.8,403.4 457.0,403.6 457.2,402.6 457.5,402.4 457.8,403.3 458.1,404.0 458.5,404.3 458.7,403.4 458.8,403.3 459.1,406.3 459.5,406.3 459.8,404.0 460.1,404.3 460.4,405.5 460.8,408.4 461.1,406.4 461.4,408.2 461.8,407.5 462.1,407.1 462.4,405.2 462.7,407.5 463.1,408.6 463.4,408.3 463.7,408.3 464.0,408.2 464.4,407.2 464.7,407.8 465.0,409.5 465.4,408.5 465.7,407.9 466.0,409.4 466.3,406.9 466.7,407.7 467.0,405.8 467.3,408.7 467.7,406.7 468.0,406.9 468.3,408.8 468.6,409.0 469.0,409.0 469.3,406.0 469.6,407.1 470.0,406.7 470.3,408.1 470.6,407.5 470.9,407.0 471.3,407.2 471.6,408.2 471.9,408.3 472.2,409.2 472.6,407.0 472.9,408.9 473.2,409.8 473.6,408.3 473.9,410.5 474.2,407.7 474.5,409.6 474.9,408.3 475.2,408.9 475.5,408.9 475.9,410.0 476.2,410.7 476.5,409.7 476.8,409.0 477.2,408.3 477.5,410.5 477.8,407.1 478.2,407.2 478.5,410.3 478.8,408.8 479.1,409.2 479.5,410.3 479.8,408.9 480.1,409.0 480.4,409.2 480.6,408.9 480.8,408.6 481.1,408.5 481.4,406.9 481.8,409.6 482.1,408.2 482.4,409.9 482.4,408.9 482.7,408.8 483.1,408.6 483.4,409.4 483.7,410.2 484.1,409.3 484.4,408.3 484.7,408.5 485.0,408.4 485.4,408.1 485.7,409.3 486.0,408.3 486.4,409.0 486.7,408.7 487.0,409.0 487.3,409.3 487.7,408.5 488.0,409.0 488.3,409.1 488.6,407.2 489.0,409.5 489.3,410.2 489.6,409.7 490.0,408.9 490.3,409.9 490.6,408.9 490.9,408.9 491.3,408.9 491.6,405.7 491.9,406.1 492.3,406.0 492.6,406.6 492.9,407.9 493.2,404.8 493.6,403.3 493.9,401.6 494.2,401.3 494.4,401.9 494.6,402.0 494.9,402.2 495.2,401.3 495.5,403.5 495.9,406.4 496.2,406.7 496.2,406.6 496.5,406.7 496.8,408.3 497.2,409.7 497.5,408.2 497.8,408.2 498.2,409.8 498.5,408.1 498.8,408.9 499.1,408.0 499.5,410.3 499.8,407.6 500.1,410.0 500.5,408.3 500.8,408.5 501.1,409.2 501.4,408.6 501.8,409.0 502.1,409.1 502.4,410.0 502.8,408.9 503.1,408.1 503.4,409.5 503.7,409.2 504.1,408.6 504.4,407.7 504.7,408.2 505.0,409.4 505.4,406.7 505.7,408.2 506.0,407.1 506.4,408.8 506.7,408.2 507.0,407.6 507.3,406.4 507.7,406.9 508.0,405.3 508.3,404.3 508.7,399.9 509.0,393.8 509.3,379.9 509.6,368.6 510.1,353.9 510.3,355.5 510.6,364.4 511.0,373.0 511.3,375.7 511.6,375.2 511.9,375.1 511.9,374.4 512.3,378.0 512.6,386.5 512.9,394.7 513.2,400.4 513.6,404.5 513.9,406.5 514.2,407.6 514.6,408.6 514.9,408.0 515.2,408.3 515.5,407.9 515.9,409.6 516.2,409.6 516.5,409.1 516.9,407.2 517.2,409.0 517.5,410.3 517.8,407.7 518.2,407.9 518.5,409.6 518.8,409.8 519.2,409.2 519.5,410.4 519.8,410.6 520.1,409.3 520.5,410.7 520.8,408.2 521.1,409.0 521.4,408.6 521.8,408.3 522.1,408.1 522.4,409.2 522.8,406.9 523.1,408.6 523.4,409.8 523.7,409.2 524.1,409.7 524.4,409.3 524.7,410.0 525.1,409.9 525.4,409.6 525.7,409.5 526.0,409.3 526.4,407.8 526.7,408.3 527.0,410.2 527.4,410.0 527.7,408.9 528.0,407.9 528.3,407.0 528.7,408.7 529.0,409.5 529.3,407.8 529.6,408.8 530.0,407.6 530.3,408.6 530.6,409.9 531.0,409.2 531.3,407.0 531.6,409.2 531.9,407.9 532.3,410.0 532.6,409.0 532.9,407.7 533.3,408.2 533.6,406.7 533.9,408.1 534.2,409.0 534.6,405.8 534.9,405.9 535.2,404.7 535.6,406.1 535.9,406.1 536.2,404.3 536.5,406.3 536.9,405.5 537.2,404.9 537.5,403.7 537.8,401.9 538.2,399.9 538.5,397.8 538.8,387.6 539.2,374.9 539.5,353.7 539.8,330.6 540.2,317.6 540.5,321.4 540.8,337.7 541.1,348.7 541.5,354.1 541.8,350.8 542.1,349.2 542.1,348.5 542.4,355.5 542.8,369.4 543.1,381.4 543.4,393.2 543.8,398.7 544.1,403.3 544.4,403.8 544.7,404.7 545.1,405.0 545.4,404.7 545.7,406.1 546.0,407.4 546.4,407.6 546.7,406.8 547.0,406.4 547.4,407.7 547.7,407.5 548.0,406.7 548.3,405.9 548.7,406.4 549.0,406.7 549.3,403.8 549.7,406.9 550.0,407.9 550.3,409.1 550.6,411.2 551.0,407.5 551.3,407.2 551.6,408.9 552.0,406.7 552.3,405.7 552.6,407.8 552.9,407.4 553.3,405.1 553.6,403.6 553.9,398.9 554.2,391.7 554.6,387.4 555.0,382.0 555.2,382.5 555.6,385.9 555.9,389.2 556.2,392.4 556.5,391.1 556.9,395.0 557.0,390.1 557.2,393.3 557.5,395.9 557.9,399.9 558.2,402.2 558.5,406.3 558.8,405.3 559.2,407.9 559.5,406.2 559.8,406.9 560.2,407.7 560.5,406.3 560.8,407.2 561.1,405.1 561.5,404.2 561.8,407.1 562.1,407.3 562.4,408.5 562.8,408.5 563.1,409.4 563.4,408.6 563.8,408.4 564.1,407.7 564.4,407.4 564.7,405.9 565.1,407.2 565.4,408.1 565.7,407.2 566.1,406.6 566.4,405.2 566.7,405.5 567.0,407.5 567.4,406.5 567.7,405.2 568.0,403.8 568.4,403.1 568.7,398.9 569.0,394.7 569.3,381.6 569.7,367.1 570.0,348.5 570.3,330.1 570.5,327.2 570.6,328.4 571.0,340.0 571.3,352.3 571.6,361.2 572.0,360.4 572.3,356.2 572.5,356.0 572.6,358.8 572.9,365.8 573.3,376.6 573.6,390.1 573.9,397.1 574.3,401.8 574.6,403.6 574.9,405.6 575.2,405.6 575.6,405.3 575.9,407.3 576.2,407.3 576.6,405.8 576.9,407.9 577.2,407.2 577.5,407.6 577.9,408.4 578.2,407.2 578.5,408.5 578.8,407.6 579.2,409.1 579.5,408.5 579.8,409.7 580.2,407.8 580.5,409.3 580.8,408.0 581.1,408.7 581.5,408.0 581.8,409.3 582.1,407.7 582.5,407.2 582.8,407.7 583.1,408.0 583.4,408.3 583.8,407.8 584.1,408.5 584.4,407.7 584.8,409.3 585.1,406.8 585.4,408.7 585.7,407.5 586.1,407.3 586.4,407.9 586.7,406.7 587.0,408.4 587.4,409.1 587.7,406.7 588.0,409.2 588.4,408.2 588.7,409.2 589.0,408.1 589.3,407.6 589.7,407.8 590.0,407.4 590.3,407.9 590.7,407.6 591.0,408.1 591.3,409.0 591.6,407.9 592.0,409.0 592.3,407.8 592.6,408.2 593.0,405.5 593.3,408.4 593.6,407.9 593.9,407.8 594.3,409.2 594.6,407.7 594.9,407.1 595.2,409.0 595.6,408.8 595.9,410.5 596.2,407.7 596.6,406.9 596.9,407.4 597.2,409.1 597.5,408.0 597.9,407.8 598.2,407.3 598.5,408.0 598.9,409.2 599.2,409.7 599.5,408.1 599.8,408.1 600.2,409.5 600.5,409.8 600.8,408.0 601.2,409.9 601.5,409.1 601.8,409.2 602.1,408.3 602.5,408.1 602.8,408.5 603.1,409.1 603.4,409.2 603.8,407.9 604.1,410.0 604.4,410.4 604.8,409.5 605.1,410.6 605.4,408.1 605.7,407.2 606.1,408.6 606.4,409.8"/>
<polyline fill="none" stroke="#1f7af7" stroke-width="1.65" stroke-linejoin="round" points="81.6,387.4 81.9,387.3 82.3,387.3 82.6,387.6 82.9,387.6 83.2,387.7 83.6,389.2 83.9,386.7 84.2,388.0 84.6,386.0 84.9,387.6 85.2,388.5 85.5,389.5 85.9,387.9 86.2,389.4 86.5,387.3 86.8,388.1 87.2,389.6 87.5,388.2 87.8,388.0 88.2,388.3 88.5,387.2 88.8,387.9 89.1,388.9 89.5,388.8 89.8,387.9 90.1,388.3 90.5,389.0 90.8,386.1 91.1,387.5 91.4,386.9 91.8,386.1 92.1,385.1 92.4,383.8 92.8,374.2 93.0,368.8 93.4,370.7 93.7,373.5 93.7,374.9 94.1,381.4 94.4,383.0 94.7,384.6 95.0,386.2 95.4,386.5 95.7,386.9 96.0,388.7 96.4,386.1 96.7,385.7 97.0,387.3 97.3,387.4 97.7,387.5 98.0,386.7 98.3,388.7 98.7,388.2 99.0,388.4 99.3,386.9 99.6,386.4 100.0,388.1 100.3,388.5 100.6,385.4 101.0,388.2 101.3,387.2 101.6,387.4 101.9,388.0 102.3,386.3 102.6,387.0 102.9,386.8 103.2,386.4 103.6,385.8 103.9,387.9 104.2,389.5 104.6,389.4 104.9,387.3 105.2,388.6 105.5,387.3 105.9,388.1 106.2,386.8 106.5,386.2 106.9,388.1 107.2,388.6 107.5,389.1 107.8,387.0 108.2,388.0 108.5,386.1 108.8,387.5 109.2,387.1 109.5,387.2 109.8,389.2 110.1,386.7 110.5,386.3 110.8,387.8 111.1,387.2 111.4,387.6 111.8,386.0 112.1,387.9 112.4,387.1 112.8,384.5 113.1,386.3 113.4,386.1 113.7,386.6 114.1,386.8 114.4,386.8 114.7,387.9 115.1,385.5 115.4,387.5 115.7,387.4 116.0,387.2 116.4,389.6 116.7,387.2 117.0,387.4 117.4,386.5 117.7,387.7 118.0,386.1 118.3,387.3 118.7,387.4 119.0,387.5 119.3,388.3 119.6,388.3 120.0,386.6 120.3,387.1 120.6,387.4 121.0,386.9 121.3,386.7 121.6,388.6 121.9,388.8 122.3,388.3 122.6,386.0 122.9,389.1 123.3,385.9 123.6,386.5 123.9,386.8 124.2,387.3 124.6,387.8 124.9,386.9 125.2,386.0 125.6,387.3 125.9,387.9 126.2,387.1 126.5,387.2 126.9,385.3 127.2,388.8 127.5,386.4 127.8,386.9 128.2,386.2 128.5,385.0 128.8,387.5 129.2,386.6 129.5,385.8 129.8,386.3 130.1,384.3 130.5,386.4 130.8,387.8 131.0,386.8 131.5,386.6 131.8,385.9 131.8,386.9 132.1,386.2 132.4,386.5 132.8,385.8 133.1,386.4 133.4,386.4 133.8,387.4 134.1,386.8 134.4,387.3 134.7,387.3 135.1,388.6 135.4,387.9 135.7,386.9 136.0,386.3 136.4,388.3 136.7,387.1 137.0,387.7 137.4,388.2 137.7,387.1 138.0,386.9 138.3,389.0 138.7,388.0 139.0,388.8 139.3,386.7 139.7,389.0 140.0,387.2 140.3,387.6 140.6,390.1 141.0,388.1 141.3,387.4 141.6,387.2 142.0,386.4 142.3,389.2 142.6,390.3 142.9,388.6 143.3,388.4 143.6,386.9 143.9,387.9 144.2,388.1 144.6,387.2 144.9,387.8 145.2,386.2 145.6,386.1 145.9,385.8 146.2,387.4 146.5,386.4 146.9,386.4 147.2,386.3 147.5,386.8 147.9,387.7 148.2,387.7 148.5,387.1 148.8,386.6 149.2,386.8 149.5,387.1 149.8,387.1 150.2,385.6 150.5,386.9 150.8,385.7 151.1,384.0 151.5,385.3 151.8,386.5 152.1,388.3 152.4,387.7 152.8,388.4 153.1,387.6 153.4,386.0 153.8,387.6 154.1,388.2 154.4,384.4 154.7,383.9 155.1,385.0 155.4,384.2 155.7,384.5 156.1,385.3 156.4,384.9 156.7,388.0 157.0,387.8 157.4,386.2 157.7,388.3 158.0,387.5 158.4,386.6 158.7,387.1 159.0,387.3 159.3,387.8 159.7,386.7 160.0,386.8 160.3,387.1 160.6,386.5 161.0,387.3 161.3,387.0 161.6,388.4 162.0,385.5 162.3,387.2 162.6,386.6 162.9,386.5 163.3,387.1 163.6,388.9 163.9,387.0 164.3,386.8 164.6,386.3 164.9,386.6 165.2,388.4 165.6,388.6 165.9,388.3 166.2,388.7 166.6,388.5 166.9,387.2 167.2,386.8 167.5,386.8 167.9,388.2 168.2,389.4 168.5,388.8 168.8,388.2 169.2,386.7 169.5,387.5 169.8,388.9 170.2,387.9 170.5,386.9 170.8,388.4 171.1,387.2 171.5,387.6 171.8,388.7 172.1,388.6 172.5,387.6 172.8,387.3 173.1,388.7 173.4,388.4 173.8,387.2 174.1,386.6 174.4,388.2 174.8,386.7 175.1,386.3 175.4,386.1 175.7,388.5 176.1,385.7 176.4,385.5 176.7,386.0 177.0,384.7 177.4,384.9 177.7,385.3 178.0,385.0 178.4,385.1 178.7,384.3 179.0,385.9 179.3,385.7 179.7,385.2 180.0,387.4 180.3,385.9 180.7,384.1 181.0,383.9 181.3,384.0 181.6,382.2 182.0,375.3 182.3,360.2 182.6,337.6 182.9,323.9 183.3,330.8 183.6,336.9 183.8,343.8 183.9,347.4 184.3,364.1 184.6,377.4 184.9,383.6 185.2,385.8 185.6,383.7 185.9,385.5 186.2,384.9 186.6,385.0 186.9,385.9 187.2,387.0 187.5,389.1 187.9,387.3 188.2,383.8 188.5,385.9 188.9,386.4 189.2,386.6 189.5,387.9 189.8,386.4 190.2,387.0 190.5,388.0 190.8,387.7 191.2,387.8 191.5,387.5 191.8,385.9 192.1,385.1 192.5,386.0 192.8,384.9 193.1,389.1 193.4,388.2 193.8,388.5 194.1,386.6 194.4,386.5 194.8,387.3 195.1,386.5 195.4,388.2 195.7,386.8 196.1,386.6 196.4,387.8 196.7,389.0 197.1,387.3 197.4,388.9 197.7,386.9 198.0,385.9 198.4,386.8 198.7,386.7 199.0,386.9 199.4,385.1 199.7,385.7 200.0,389.7 200.3,386.8 200.7,387.9 201.0,386.1 201.3,384.1 201.6,386.9 202.0,388.8 202.3,385.5 202.6,385.2 203.0,385.7 203.3,386.3 203.6,385.2 203.9,388.0 204.3,386.9 204.6,385.9 204.9,387.1 205.3,386.2 205.6,385.2 205.9,384.8 206.2,383.9 206.6,382.7 206.9,383.4 207.2,381.9 207.6,378.4 207.9,365.1 208.2,342.4 208.5,313.9 208.7,307.3 208.9,306.8 209.2,318.3 209.5,326.5 209.7,331.8 209.8,339.3 210.2,357.2 210.5,373.5 210.8,380.1 211.2,383.5 211.5,384.6 211.8,384.0 212.1,384.9 212.5,385.8 212.8,385.3 213.1,384.1 213.5,386.5 213.8,386.5 214.1,386.8 214.4,386.3 214.8,386.1 215.1,385.2 215.4,385.3 215.8,387.6 216.1,385.2 216.4,385.9 216.7,385.4 217.1,386.4 217.4,386.1 217.7,388.1 218.0,387.2 218.4,386.7 218.7,386.0 219.0,387.0 219.4,388.1 219.7,388.2 220.0,388.2 220.3,386.9 220.7,387.8 221.0,386.6 221.3,388.2 221.7,389.4 222.0,389.8 222.3,388.3 222.6,388.0 223.0,388.1 223.3,388.0 223.6,385.8 224.0,386.5 224.3,388.8 224.6,388.9 224.9,386.9 225.3,387.9 225.6,387.7 225.9,385.0 226.2,387.0 226.6,385.4 226.9,387.9 227.2,387.0 227.6,386.8 227.9,387.8 228.2,387.0 228.5,386.3 228.9,387.3 229.2,384.9 229.5,386.8 229.9,385.8 230.2,384.9 230.5,385.1 230.8,387.3 231.2,386.2 231.5,387.0 231.8,386.2 232.2,387.4 232.5,387.1 232.8,385.5 233.1,387.3 233.5,387.0 233.8,386.2 234.1,387.3 234.4,387.3 234.8,388.2 235.1,386.5 235.4,387.0 235.8,385.6 236.1,387.0 236.4,384.8 236.7,386.4 237.1,387.2 237.4,386.1 237.7,386.6 238.1,388.8 238.4,386.4 238.7,386.4 239.0,386.7 239.4,385.2 239.7,385.1 240.0,382.9 240.4,384.9 240.7,385.9 241.0,386.1 241.3,385.3 241.7,386.2 242.0,385.0 242.3,384.4 242.6,384.4 243.0,385.6 243.3,385.9 243.6,384.7 244.0,385.9 244.3,385.6 244.6,385.8 244.9,385.3 245.3,384.6 245.6,385.8 245.9,383.2 246.3,384.1 246.6,381.8 246.9,384.2 247.2,384.3 247.6,384.2 247.9,382.7 248.2,382.9 248.6,384.4 248.9,384.2 249.2,382.5 249.5,382.6 249.9,382.3 250.2,382.3 250.5,383.3 250.8,382.4 251.2,383.6 251.5,382.2 251.8,383.3 252.2,382.2 252.5,380.2 252.8,379.5 253.1,379.8 253.5,378.5 253.8,377.1 254.1,373.1 254.5,362.5 254.8,318.9 255.1,199.7 255.5,65.5 255.8,125.0 256.1,215.5 256.4,194.2 256.6,182.5 256.8,200.4 257.1,290.0 257.4,350.8 257.7,370.3 258.1,372.8 258.4,377.6 258.7,379.0 259.0,377.6 259.4,380.3 259.7,381.3 260.0,380.6 260.4,379.8 260.7,381.8 261.0,381.6 261.3,380.3 261.7,378.5 262.0,379.0 262.3,379.7 262.7,381.1 263.0,382.3 263.1,380.0 263.3,381.7 263.6,382.0 264.0,380.4 264.3,382.5 264.6,384.2 265.0,382.2 265.3,381.3 265.6,383.8 265.9,383.6 266.3,383.8 266.6,383.9 266.9,384.2 267.2,384.4 267.6,386.3 267.9,385.1 268.2,384.6 268.6,384.8 268.9,386.1 269.2,383.7 269.5,384.6 269.9,385.5 270.2,387.0 270.5,387.2 270.9,387.8 271.2,386.2 271.5,387.2 271.8,387.2 272.2,387.6 272.5,386.7 272.8,387.3 273.2,387.6 273.5,388.1 273.8,388.6 274.1,386.6 274.5,387.8 274.8,387.4 275.1,386.1 275.4,386.6 275.8,388.2 276.1,387.8 276.4,386.7 276.8,386.5 277.1,387.2 277.4,386.5 277.7,387.1 278.1,384.1 278.4,385.3 278.7,388.6 279.1,388.4 279.4,386.2 279.7,385.6 280.0,386.2 280.4,386.8 280.7,386.6 281.0,386.0 281.4,385.8 281.7,387.3 282.0,386.7 282.3,386.3 282.7,386.2 283.0,387.2 283.3,386.4 283.6,385.8 284.0,387.7 284.3,387.3 284.6,386.7 285.0,385.8 285.3,387.0 285.6,389.1 285.9,389.0 286.3,386.4 286.6,387.0 286.9,388.0 287.3,388.4 287.6,387.0 287.9,388.5 288.2,386.7 288.6,387.4 288.9,386.4 289.2,385.5 289.6,386.8 289.9,386.3 290.2,385.5 290.5,385.8 290.9,385.3 291.2,385.9 291.5,386.1 291.8,387.4 292.2,388.4 292.5,387.9 292.8,390.5 293.2,387.5 293.5,384.3 293.8,386.2 294.1,387.4 294.5,387.3 294.8,386.2 295.1,387.0 295.5,386.7 295.8,384.6 296.1,385.9 296.4,385.7 296.8,385.9 297.1,384.3 297.4,381.9 297.8,375.6 298.1,362.3 298.4,343.3 298.8,328.0 299.1,331.5 299.4,342.6 299.7,347.0 300.0,348.6 300.0,349.0 300.4,356.5 300.7,369.3 301.0,378.8 301.4,381.4 301.7,385.0 302.0,386.1 302.3,387.7 302.7,387.5 303.0,386.1 303.3,386.5 303.7,387.2 304.0,387.0 304.3,385.0 304.6,385.5 305.0,387.6 305.3,386.0 305.6,386.2 306.0,387.1 306.3,388.0 306.6,385.4 306.9,385.7 307.3,385.4 307.6,386.3 307.9,386.4 308.2,388.0 308.6,387.8 308.9,385.0 309.2,386.3 309.6,385.7 309.9,386.3 310.2,385.4 310.5,387.9 310.9,386.9 311.2,387.2 311.5,387.6 311.9,385.2 312.2,388.4 312.5,386.5 312.8,385.3 313.2,386.7 313.5,386.7 313.8,386.8 314.2,386.5 314.5,387.7 314.8,385.4 315.1,386.4 315.5,386.3 315.8,386.6 316.1,384.7 316.4,385.5 316.8,388.0 317.1,386.8 317.4,387.2 317.8,384.5 318.1,383.4 318.4,376.7 318.7,372.2 319.0,369.7 319.4,370.9 319.7,373.3 320.1,375.0 320.3,374.6 320.4,377.0 320.7,380.1 321.0,382.9 321.4,384.9 321.7,386.8 322.0,387.3 322.4,384.9 322.7,386.1 323.0,385.0 323.3,384.6 323.7,385.5 324.0,386.2 324.3,387.2 324.6,387.1 325.0,386.1 325.3,387.3 325.6,385.2 326.0,386.4 326.3,388.7 326.6,388.4 326.9,386.7 327.3,386.5 327.6,387.7 327.9,388.0 328.3,388.6 328.6,386.3 328.9,386.3 329.2,387.4 329.6,387.6 329.9,387.3 330.2,386.5 330.6,385.5 330.9,385.0 331.2,385.3 331.5,387.2 331.9,386.5 332.2,387.5 332.5,385.9 332.8,387.3 333.2,387.1 333.5,385.1 333.8,387.0 334.2,388.0 334.5,387.3 334.8,388.1 335.1,387.2 335.5,387.0 335.8,386.8 336.1,385.8 336.5,385.8 336.8,387.2 337.1,388.1 337.4,387.4 337.8,388.5 338.1,388.0 338.4,386.3 338.8,386.5 339.1,386.4 339.4,386.0 339.7,386.6 340.1,385.7 340.4,385.3 340.7,387.3 341.0,385.7 341.4,386.2 341.7,386.6 342.0,385.2 342.4,386.0 342.7,385.3 343.0,388.8 343.3,386.6 343.7,386.0 344.0,386.9 344.3,384.9 344.7,387.1 345.0,386.1 345.3,386.2 345.6,387.0 346.0,385.7 346.3,386.4 346.6,387.3 347.0,385.4 347.3,386.2 347.6,386.5 347.9,385.4 348.3,384.3 348.6,384.8 348.9,386.0 349.2,386.0 349.6,385.9 349.9,383.8 350.2,384.9 350.6,384.2 350.9,385.1 351.2,385.4 351.5,385.1 351.9,385.6 352.2,387.3 352.5,385.9 352.9,384.6 353.2,385.2 353.5,384.4 353.8,385.2 354.2,385.1 354.5,384.4 354.8,385.6 355.2,382.9 355.5,380.9 355.8,382.1 356.1,381.8 356.5,377.5 356.8,367.4 357.1,349.4 357.4,326.3 357.8,310.3 358.1,316.5 358.4,327.5 358.8,334.8 359.1,337.0 359.2,336.4 359.4,340.9 359.7,355.0 360.1,369.6 360.4,378.4 360.7,381.2 361.1,383.9 361.4,385.0 361.7,385.3 362.0,384.4 362.4,385.4 362.7,384.6 363.0,382.7 363.4,382.0 363.7,382.5 364.0,383.3 364.3,382.7 364.7,381.8 365.0,379.9 365.3,381.8 365.7,381.8 366.0,382.3 366.3,381.8 366.6,383.9 367.0,383.4 367.1,384.9 367.3,385.8 367.6,383.9 367.9,385.9 368.3,384.8 368.6,386.8 368.9,385.7 369.3,385.1 369.6,386.2 369.9,387.0 370.2,386.3 370.6,385.5 370.9,385.0 371.2,386.2 371.6,385.9 371.9,386.2 372.2,386.0 372.5,384.2 372.9,384.2 373.2,384.5 373.5,386.0 373.8,385.3 374.2,385.5 374.5,384.3 374.8,383.2 375.2,379.9 375.5,377.0 375.8,371.2 376.0,369.5 376.5,371.5 376.8,373.8 377.1,375.6 377.4,376.1 377.5,374.4 377.8,378.6 378.1,380.1 378.4,382.5 378.8,384.0 379.1,386.4 379.4,385.5 379.8,385.5 380.1,386.7 380.4,386.9 380.7,386.8 381.1,384.9 381.4,386.3 381.7,385.1 382.0,386.8 382.4,387.7 382.7,384.3 383.0,386.4 383.4,386.7 383.7,385.6 384.0,385.8 384.3,386.3 384.7,385.8 385.0,386.1 385.3,383.8 385.7,385.4 386.0,385.1 386.3,384.7 386.6,385.5 387.0,385.4 387.3,383.4 387.6,385.4 388.0,385.7 388.3,384.1 388.6,385.0 388.9,384.6 389.3,385.5 389.6,384.7 389.9,384.7 390.2,385.7 390.6,387.9 390.9,384.6 391.2,385.9 391.6,385.9 391.9,385.0 392.2,383.5 392.5,384.8 392.9,383.8 393.2,384.8 393.5,386.0 393.9,386.1 394.2,385.8 394.5,385.9 394.8,385.3 395.2,385.6 395.5,385.1 395.8,384.8 396.2,385.6 396.5,386.4 396.8,385.0 397.1,385.4 397.5,386.4 397.8,386.2 398.1,384.8 398.4,386.5 398.8,385.4 399.1,387.2 399.4,386.5 399.8,385.9 400.1,386.2 400.4,386.4 400.7,387.7 401.1,387.1 401.4,389.0 401.7,386.3 402.1,387.0 402.4,387.0 402.7,388.0 403.0,384.6 403.4,385.4 403.7,386.2 404.0,386.9 404.4,387.0 404.7,388.2 405.0,386.5 405.3,386.4 405.7,385.0 406.0,388.2 406.3,385.6 406.6,387.2 407.0,386.5 407.3,384.0 407.6,385.7 408.0,385.9 408.3,386.7 408.6,385.1 408.9,387.0 409.3,386.4 409.6,385.0 409.9,384.7 410.3,386.2 410.6,386.3 410.9,386.8 411.2,385.7 411.6,386.4 411.9,382.6 412.2,384.8 412.6,386.0 412.9,384.0 413.2,386.0 413.5,387.2 413.9,386.4 414.2,386.6 414.5,388.1 414.8,386.1 415.2,385.3 415.5,386.0 415.8,385.7 416.2,386.4 416.5,386.7 416.8,386.5 417.1,386.4 417.5,385.8 417.8,385.8 418.1,387.7 418.5,384.7 418.8,385.7 419.1,386.6 419.4,385.4 419.8,386.0 420.1,385.5 420.4,387.7 420.8,386.6 421.1,385.6 421.4,386.0 421.7,385.8 422.1,386.2 422.4,386.1 422.7,385.3 423.0,385.6 423.4,386.3 423.7,386.6 424.0,386.3 424.4,385.3 424.7,386.3 425.0,385.8 425.3,384.3 425.7,382.9 426.0,384.2 426.3,383.2 426.7,382.2 427.0,382.5 427.3,379.3 427.6,374.3 428.0,359.4 428.3,340.2 428.6,319.6 428.9,310.4 429.3,320.3 429.6,334.7 429.9,337.9 430.3,338.2 430.5,338.2 430.6,339.6 430.9,349.6 431.2,363.7 431.6,373.6 431.9,379.6 432.2,383.1 432.6,383.0 432.9,383.6 433.2,384.5 433.5,384.6 433.9,384.3 434.2,384.3 434.5,385.2 434.9,386.0 435.2,384.8 435.5,385.2 435.8,385.9 436.2,385.9 436.5,386.8 436.8,385.0 437.2,385.8 437.5,385.1 437.8,385.0 438.1,386.2 438.5,387.1 438.8,384.0 439.1,384.8 439.4,384.9 439.8,387.2 440.1,386.4 440.4,385.4 440.8,386.9 441.1,387.0 441.4,386.6 441.7,384.7 442.1,385.3 442.4,385.4 442.7,385.1 443.1,387.1 443.4,386.2 443.7,384.9 444.0,383.9 444.4,386.3 444.7,387.6 445.0,388.7 445.4,387.7 445.7,387.4 446.0,384.5 446.3,387.7 446.7,387.4 447.0,386.6 447.3,386.0 447.6,387.3 448.0,386.3 448.3,387.4 448.6,388.9 449.0,387.0 449.3,386.3 449.6,387.2 449.9,387.4 450.3,386.1 450.6,385.6 450.9,386.3 451.3,385.2 451.6,386.8 451.9,385.9 452.2,385.5 452.6,384.9 452.9,384.3 453.2,385.1 453.6,384.3 453.9,385.0 454.2,382.0 454.5,382.8 454.9,382.7 455.2,383.2 455.5,381.9 455.8,380.9 456.2,378.8 456.5,382.2 456.8,380.3 457.0,381.2 457.2,380.8 457.5,381.5 457.8,381.7 458.1,381.7 458.5,382.8 458.7,382.4 458.8,382.1 459.1,382.6 459.5,383.3 459.8,383.4 460.1,382.5 460.4,385.8 460.8,384.8 461.1,383.0 461.4,384.7 461.8,386.3 462.1,385.5 462.4,385.7 462.7,384.4 463.1,384.5 463.4,384.5 463.7,385.4 464.0,385.4 464.4,385.0 464.7,386.9 465.0,386.1 465.4,384.4 465.7,386.1 466.0,386.4 466.3,386.1 466.7,387.1 467.0,387.3 467.3,385.9 467.7,386.3 468.0,384.8 468.3,386.2 468.6,386.1 469.0,385.4 469.3,387.1 469.6,385.1 470.0,386.3 470.3,385.6 470.6,386.1 470.9,385.0 471.3,388.6 471.6,388.8 471.9,386.6 472.2,385.3 472.6,386.3 472.9,385.2 473.2,386.3 473.6,386.6 473.9,385.1 474.2,384.2 474.5,385.7 474.9,386.2 475.2,386.2 475.5,386.5 475.9,387.1 476.2,384.4 476.5,384.3 476.8,385.5 477.2,387.1 477.5,386.6 477.8,385.9 478.2,385.9 478.5,386.5 478.8,386.5 479.1,386.4 479.5,385.8 479.8,387.4 480.1,385.9 480.4,385.9 480.6,386.3 480.8,387.3 481.1,385.6 481.4,385.1 481.8,386.0 482.1,383.8 482.4,385.6 482.4,385.4 482.7,386.0 483.1,386.7 483.4,384.8 483.7,385.4 484.1,385.4 484.4,385.3 484.7,385.6 485.0,386.0 485.4,385.8 485.7,387.3 486.0,386.0 486.4,384.7 486.7,386.7 487.0,384.7 487.3,384.5 487.7,385.4 488.0,386.8 488.3,384.5 488.6,385.3 489.0,387.3 489.3,387.2 489.6,387.4 490.0,385.7 490.3,385.5 490.6,384.7 490.9,386.4 491.3,387.7 491.6,385.8 491.9,385.5 492.3,383.8 492.6,382.3 492.9,380.7 493.2,380.6 493.6,381.2 493.9,379.3 494.2,377.5 494.4,378.3 494.6,378.9 494.9,379.3 495.2,380.5 495.5,380.8 495.9,382.2 496.2,384.3 496.2,383.8 496.5,384.5 496.8,383.8 497.2,385.6 497.5,385.8 497.8,385.4 498.2,387.2 498.5,386.7 498.8,385.4 499.1,386.0 499.5,384.7 499.8,386.2 500.1,386.4 500.5,386.2 500.8,385.4 501.1,386.0 501.4,385.8 501.8,385.2 502.1,385.6 502.4,385.2 502.8,384.4 503.1,386.4 503.4,386.5 503.7,386.9 504.1,383.8 504.4,384.5 504.7,385.4 505.0,384.4 505.4,384.2 505.7,382.4 506.0,382.2 506.4,383.4 506.7,382.2 507.0,383.3 507.3,380.9 507.7,382.3 508.0,382.3 508.3,380.4 508.7,376.9 509.0,369.7 509.3,357.4 509.6,340.7 510.1,329.0 510.3,330.6 510.6,339.7 511.0,349.0 511.3,352.2 511.6,351.9 511.9,348.9 511.9,347.9 512.3,353.1 512.6,362.2 512.9,373.1 513.2,376.9 513.6,381.2 513.9,382.7 514.2,384.5 514.6,385.0 514.9,386.0 515.2,384.2 515.5,383.5 515.9,385.4 516.2,384.6 516.5,383.6 516.9,383.4 517.2,385.0 517.5,385.2 517.8,382.9 518.2,385.6 518.5,384.2 518.8,384.9 519.2,383.6 519.5,384.3 519.8,383.8 520.1,383.8 520.5,386.3 520.8,385.4 521.1,383.5 521.4,384.9 521.8,385.2 522.1,386.9 522.4,385.6 522.8,384.8 523.1,384.3 523.4,385.9 523.7,383.8 524.1,385.3 524.4,385.9 524.7,384.7 525.1,383.7 525.4,386.3 525.7,383.2 526.0,384.9 526.4,383.6 526.7,385.8 527.0,384.8 527.4,385.1 527.7,384.9 528.0,385.7 528.3,384.2 528.7,385.7 529.0,386.8 529.3,388.6 529.6,386.1 530.0,386.0 530.3,386.1 530.6,384.0 531.0,385.4 531.3,385.3 531.6,385.6 531.9,385.5 532.3,384.3 532.6,385.0 532.9,384.3 533.3,384.9 533.6,384.2 533.9,383.0 534.2,384.9 534.6,384.7 534.9,384.9 535.2,382.3 535.6,382.9 535.9,382.1 536.2,381.6 536.5,383.1 536.9,383.9 537.2,382.1 537.5,380.8 537.8,379.4 538.2,378.0 538.5,374.3 538.8,364.6 539.2,352.4 539.5,330.8 539.8,307.6 540.2,291.7 540.5,296.6 540.8,314.7 541.1,328.4 541.5,332.5 541.8,327.2 542.1,325.6 542.1,326.1 542.4,333.1 542.8,347.5 543.1,360.0 543.4,369.7 543.8,374.6 544.1,378.4 544.4,379.4 544.7,380.5 545.1,382.4 545.4,382.8 545.7,383.3 546.0,383.1 546.4,383.4 546.7,383.0 547.0,383.7 547.4,382.9 547.7,384.2 548.0,383.9 548.3,383.1 548.7,383.5 549.0,384.0 549.3,383.3 549.7,383.7 550.0,384.3 550.3,384.5 550.6,385.8 551.0,384.7 551.3,383.7 551.6,382.9 552.0,383.6 552.3,381.9 552.6,384.0 552.9,381.4 553.3,381.6 553.6,379.9 553.9,376.4 554.2,368.8 554.6,361.2 555.0,358.6 555.2,360.6 555.6,363.4 555.9,367.1 556.2,369.3 556.5,368.4 556.9,368.2 557.0,368.0 557.2,368.8 557.5,372.7 557.9,377.0 558.2,382.6 558.5,384.0 558.8,384.7 559.2,384.4 559.5,385.5 559.8,386.9 560.2,386.9 560.5,386.4 560.8,386.5 561.1,383.8 561.5,385.4 561.8,385.9 562.1,384.8 562.4,384.8 562.8,383.9 563.1,385.9 563.4,384.3 563.8,384.2 564.1,383.5 564.4,382.8 564.7,384.6 565.1,383.5 565.4,385.1 565.7,383.9 566.1,383.2 566.4,382.7 566.7,381.2 567.0,381.6 567.4,380.9 567.7,381.6 568.0,380.8 568.4,379.3 568.7,378.0 569.0,372.1 569.3,361.1 569.7,344.2 570.0,322.9 570.3,305.1 570.5,301.6 570.6,303.9 571.0,314.7 571.3,331.7 571.6,339.4 572.0,339.3 572.3,334.8 572.5,331.8 572.6,332.3 572.9,341.4 573.3,354.2 573.6,366.5 573.9,373.9 574.3,379.3 574.6,381.1 574.9,382.4 575.2,383.4 575.6,382.2 575.9,383.3 576.2,383.1 576.6,383.0 576.9,382.8 577.2,384.2 577.5,385.1 577.9,384.6 578.2,383.1 578.5,385.3 578.8,383.9 579.2,386.5 579.5,385.6 579.8,384.7 580.2,384.2 580.5,386.0 580.8,384.9 581.1,385.4 581.5,385.0 581.8,384.6 582.1,387.8 582.5,384.5 582.8,384.8 583.1,387.1 583.4,385.0 583.8,386.3 584.1,386.6 584.4,384.8 584.8,384.2 585.1,386.4 585.4,385.5 585.7,384.9 586.1,385.3 586.4,382.9 586.7,382.9 587.0,384.4 587.4,385.9 587.7,384.1 588.0,385.3 588.4,384.9 588.7,386.3 589.0,385.1 589.3,384.7 589.7,383.3 590.0,385.3 590.3,385.3 590.7,385.5 591.0,385.7 591.3,383.5 591.6,384.3 592.0,383.7 592.3,384.8 592.6,384.2 593.0,385.2 593.3,384.4 593.6,385.5 593.9,385.2 594.3,385.5 594.6,386.0 594.9,386.1 595.2,386.5 595.6,387.3 595.9,384.5 596.2,382.8 596.6,384.2 596.9,385.0 597.2,385.9 597.5,385.7 597.9,386.2 598.2,384.4 598.5,385.7 598.9,387.2 599.2,386.6 599.5,385.2 599.8,384.9 600.2,384.8 600.5,383.2 600.8,384.9 601.2,384.5 601.5,386.0 601.8,386.3 602.1,384.8 602.5,386.0 602.8,386.1 603.1,385.3 603.4,386.3 603.8,385.5 604.1,385.8 604.4,386.7 604.8,386.6 605.1,386.2 605.4,385.8 605.7,385.0 606.1,385.7 606.4,385.9"/>
<line x1="585.2" y1="433" x2="585.2" y2="443" stroke="#000" stroke-width="1.6"/>
<line x1="15" y1="489" x2="673" y2="489" stroke="#000" stroke-width="2.2"/>
<line x1="16.0" y1="488" x2="16.0" y2="495" stroke="#000" stroke-width="2"/>
<line x1="81.6" y1="488" x2="81.6" y2="499" stroke="#000" stroke-width="2"/>
<line x1="147.2" y1="488" x2="147.2" y2="495" stroke="#000" stroke-width="2"/>
<line x1="212.8" y1="488" x2="212.8" y2="499" stroke="#000" stroke-width="2"/>
<line x1="278.4" y1="488" x2="278.4" y2="495" stroke="#000" stroke-width="2"/>
<line x1="344.0" y1="488" x2="344.0" y2="499" stroke="#000" stroke-width="2"/>
<line x1="409.6" y1="488" x2="409.6" y2="495" stroke="#000" stroke-width="2"/>
<line x1="475.2" y1="488" x2="475.2" y2="499" stroke="#000" stroke-width="2"/>
<line x1="540.8" y1="488" x2="540.8" y2="495" stroke="#000" stroke-width="2"/>
<line x1="606.4" y1="488" x2="606.4" y2="499" stroke="#000" stroke-width="2"/>
<line x1="672.0" y1="488" x2="672.0" y2="495" stroke="#000" stroke-width="2"/>
<text x="81.6" y="526.6" text-anchor="middle" font-size="29">20</text>
<text x="212.8" y="526.6" text-anchor="middle" font-size="29">30</text>
<text x="344.0" y="526.6" text-anchor="middle" font-size="29">40</text>
<text x="475.2" y="526.6" text-anchor="middle" font-size="29">50</text>
<text x="606.4" y="526.6" text-anchor="middle" font-size="29">60</text>
<text x="294" y="555" font-size="30">2θ,</text>
<text x="340.2" y="555" font-size="29.5">degree</text>
<text x="609" y="390.3" font-size="28">300</text>
<text x="657.6" y="375.8" font-size="16">o</text>
<text x="666.3" y="390.3" font-size="28">C</text>
<text x="609" y="415.3" font-size="28">200</text>
<text x="657.6" y="400.8" font-size="16">o</text>
<text x="666.3" y="415.3" font-size="28">C</text>
<text x="609" y="439.9" font-size="28">100</text>
<text x="657.4" y="425.4" font-size="16">o</text>
<text x="666.0" y="439.9" font-size="28">C</text>
<text x="609" y="464.3" font-size="28">25</text>
<text x="644.2" y="449.8" font-size="16">o</text>
<text x="653.4" y="464.3" font-size="28">C</text>
<text x="611.8" y="486.6" font-size="28">initial</text>
<text transform="translate(103.0,341.8) rotate(-90)" font-size="24.3">2 2 0</text>
<text transform="translate(191.9,303.3) rotate(-90)" font-size="24.3">3 2 1</text>
<text transform="translate(218.9,284.8) rotate(-90)" font-size="24.3">4 0 0</text>
<text transform="translate(262.8,61.1) rotate(-90)" font-size="24.3">4 2 0</text>
<text transform="translate(306.4,302.1) rotate(-90)" font-size="24.3">4 2 2</text>
<text transform="translate(328.4,346.3) rotate(-90)" font-size="24.3">4 3 1</text>
<text transform="translate(366.0,286.6) rotate(-90)" font-size="24.3">5 2 1</text>
<text transform="translate(386.1,343.1) rotate(-90)" font-size="24.3">4 4 0</text>
<text transform="translate(437.9,285.8) rotate(-90)" font-size="24.3">5 3 2</text>
<text transform="translate(465.2,356.1) rotate(-90)" font-size="24.3">5 4 1</text>
<text transform="translate(497.8,346.1) rotate(-90)" font-size="24.3">6 3 1</text>
<text transform="translate(517.2,304.1) rotate(-90)" font-size="24.3">4 4 4</text>
<text transform="translate(549.9,266.6) rotate(-90)" font-size="24.3">6 4 0</text>
<text transform="translate(563.9,331.8) rotate(-90)" font-size="24.3">5 5 2</text>
<text transform="translate(583.9,279.1) rotate(-90)" font-size="24.3">6 4 2</text>
</svg>
</body></html>
